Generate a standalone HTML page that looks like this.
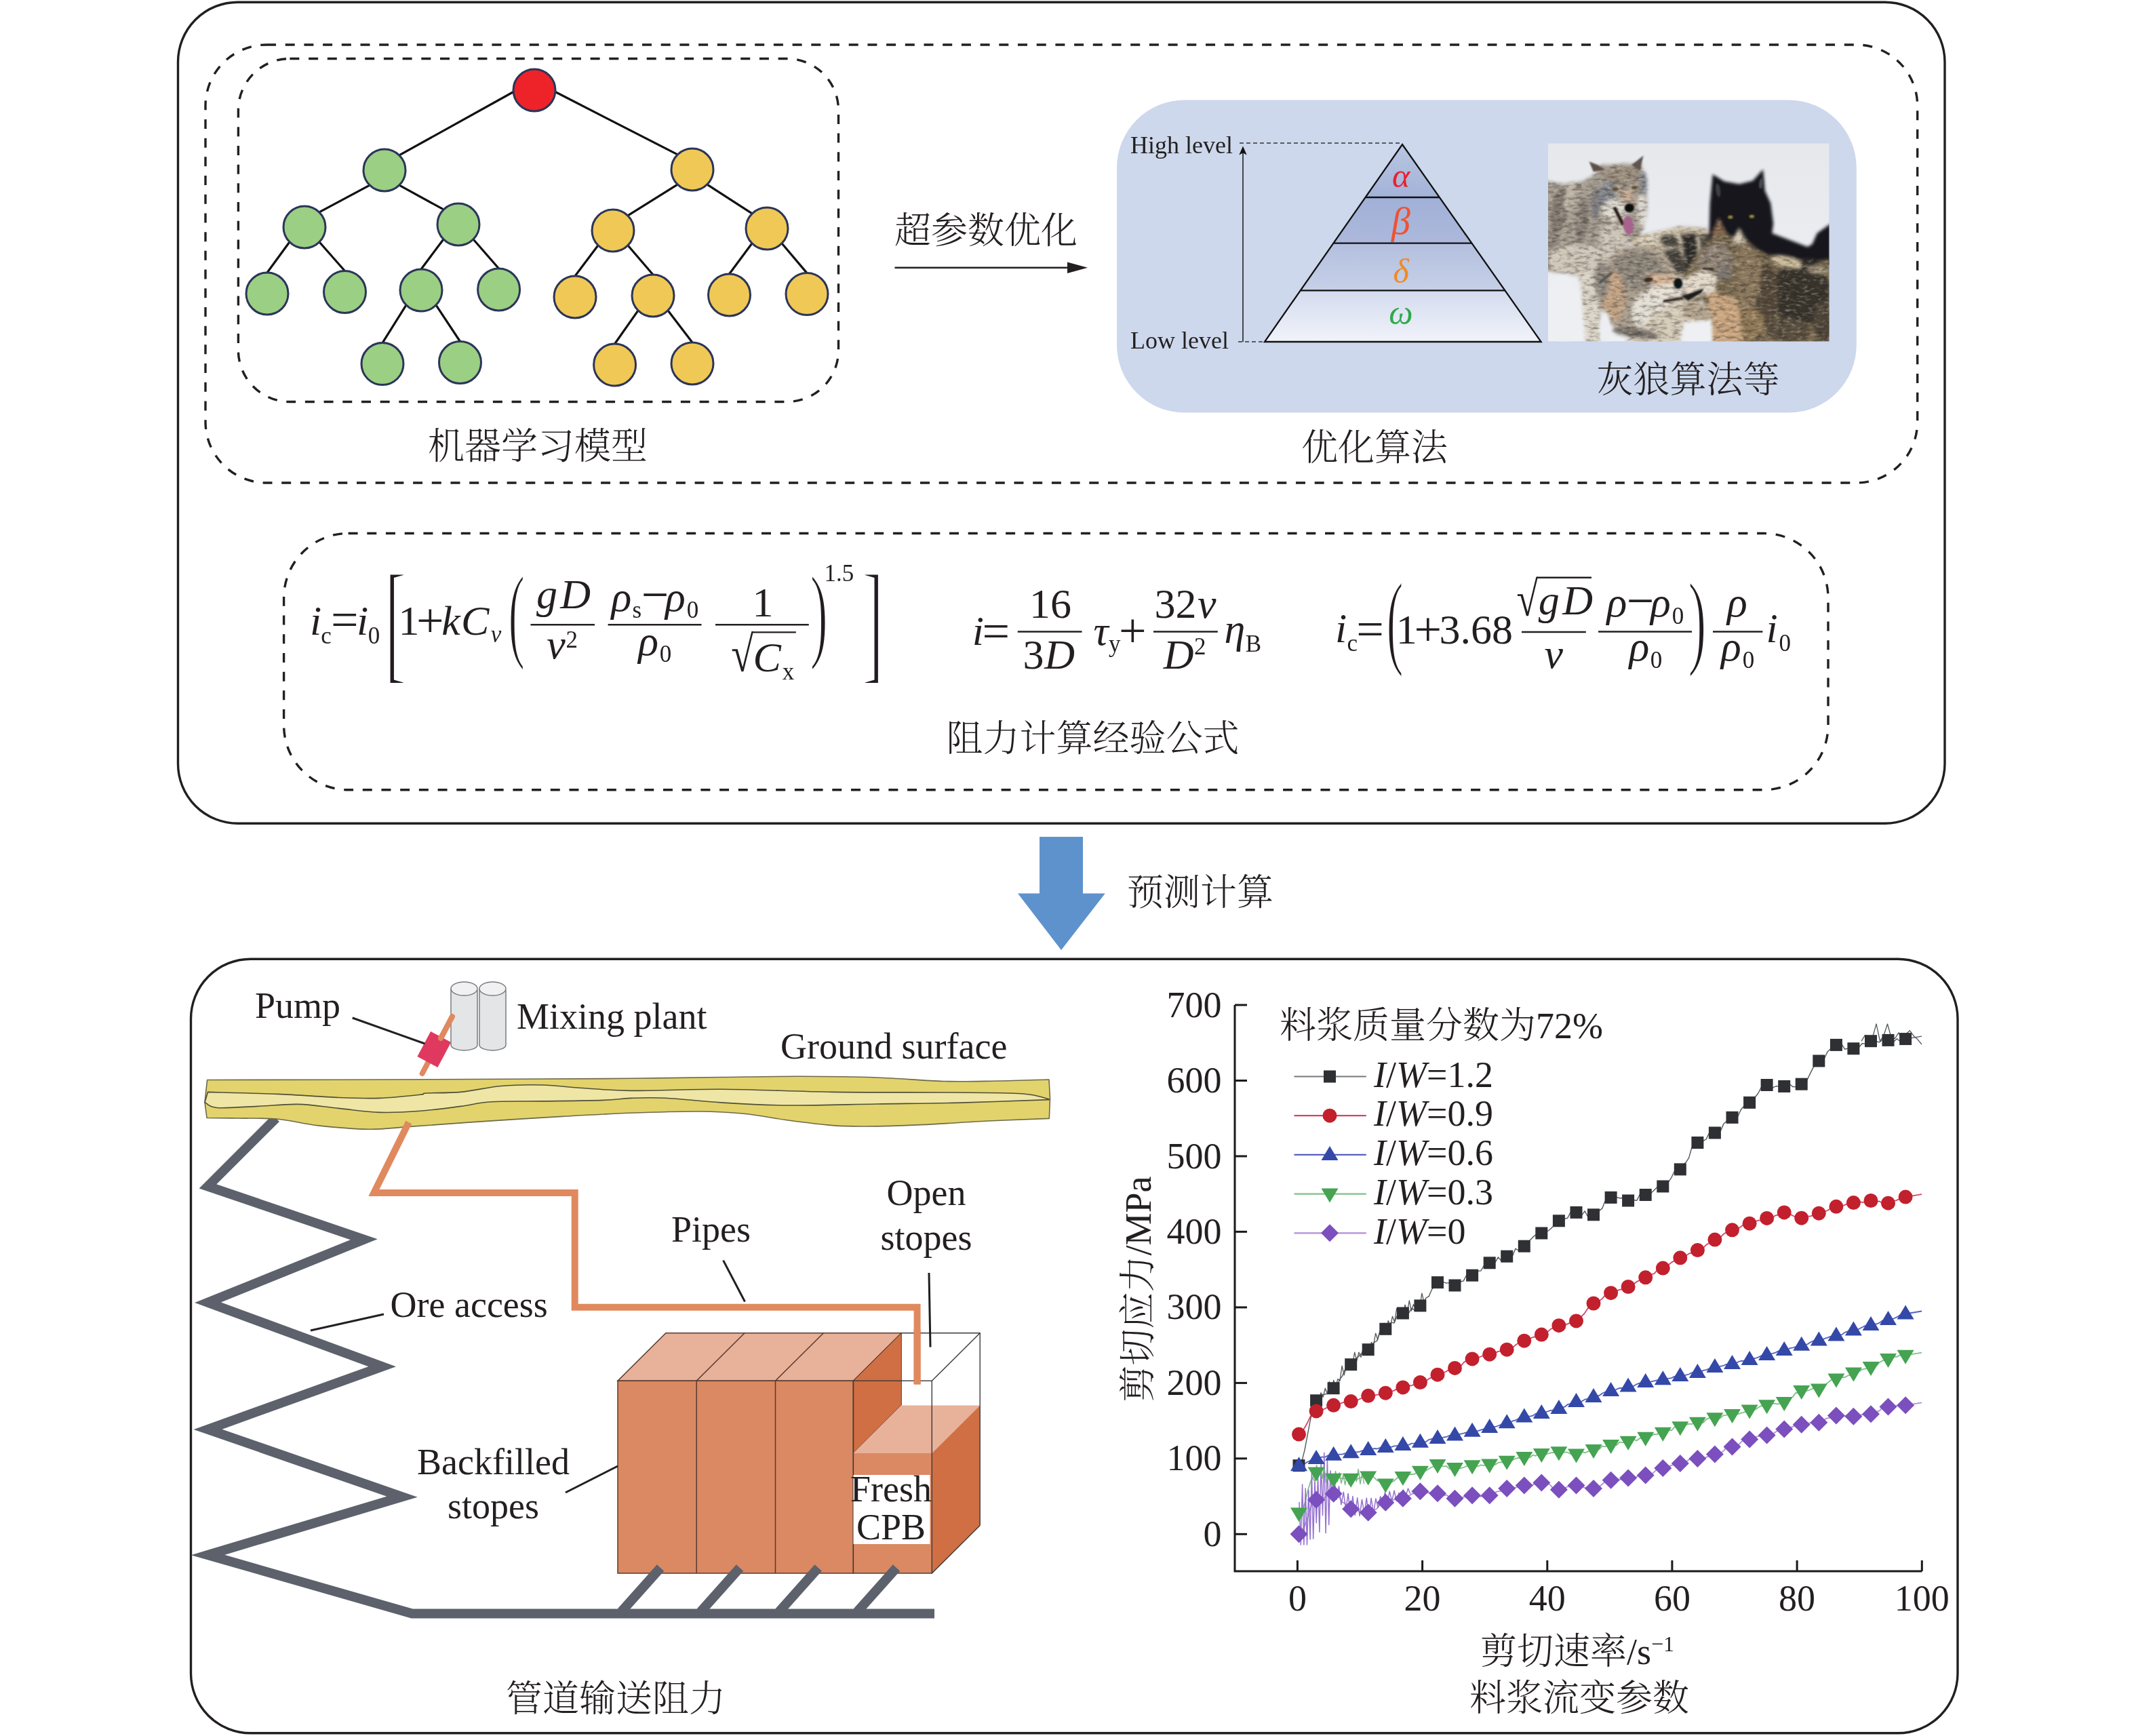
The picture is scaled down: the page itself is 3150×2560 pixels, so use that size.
<!DOCTYPE html>
<html lang="zh"><head><meta charset="utf-8"><title>figure</title>
<style>
html,body{margin:0;padding:0;background:#fff;}
body{width:3150px;height:2560px;overflow:hidden;}
svg{display:block;will-change:transform}
svg text{font-family:"Liberation Serif","Noto Serif CJK SC",serif;fill:#231f20;white-space:pre;font-weight:300}
</style></head><body>
<svg width="3150" height="2560" viewBox="0 0 3150 2560">
<!-- part_top -->
<rect x="262.5" y="3.2" width="2605.5" height="1211" rx="88" ry="88" fill="none" stroke="#231f20" stroke-width="3.4"/>
<rect x="303" y="66" width="2524.7" height="646" rx="90" ry="90" fill="none" stroke="#231f20" stroke-width="3.4" stroke-dasharray="14 13.7"/>
<rect x="351.4" y="86.5" width="885.1" height="506" rx="76" ry="76" fill="none" stroke="#231f20" stroke-width="3.4" stroke-dasharray="14 13.7"/>
<rect x="418.6" y="786.5" width="2277.4" height="378.3" rx="95" ry="95" fill="none" stroke="#231f20" stroke-width="3.4" stroke-dasharray="14 13.7"/>
<g stroke="#111" stroke-width="3.2">
<line x1="758" y1="135" x2="589.3" y2="228.7"/>
<line x1="818" y1="135" x2="998.7" y2="227.7"/>
<line x1="544.7" y1="273.3" x2="471.3" y2="312.7"/>
<line x1="589.3" y1="273.3" x2="653.7" y2="308.7"/>
<line x1="998.7" y1="272.3" x2="926.3" y2="317.7"/>
<line x1="1043.3" y1="272.3" x2="1108.7" y2="314.7"/>
<line x1="426.7" y1="357.3" x2="394" y2="402"/>
<line x1="471.3" y1="357.3" x2="508.5" y2="399.5"/>
<line x1="653.7" y1="353.3" x2="621" y2="397"/>
<line x1="698.3" y1="353.3" x2="735.6" y2="396"/>
<line x1="881.7" y1="362.3" x2="848" y2="407"/>
<line x1="926.3" y1="362.3" x2="963" y2="405"/>
<line x1="1108.7" y1="359.3" x2="1075.5" y2="404"/>
<line x1="1153.3" y1="359.3" x2="1190" y2="402.6"/>
<line x1="598.7" y1="450.3" x2="564" y2="505.6"/>
<line x1="643.3" y1="450.3" x2="678.5" y2="503.5"/>
<line x1="940.7" y1="458.3" x2="906.6" y2="507"/>
<line x1="985.3" y1="458.3" x2="1021" y2="505"/>
</g>
<g stroke="#2b3558" stroke-width="3">
<circle cx="788" cy="133" r="31" fill="#ee2229"/>
<circle cx="567" cy="251" r="31" fill="#9bcf84"/>
<circle cx="1021" cy="250" r="31" fill="#f0c855"/>
<circle cx="449" cy="335" r="31" fill="#9bcf84"/>
<circle cx="676" cy="331" r="31" fill="#9bcf84"/>
<circle cx="904" cy="340" r="31" fill="#f0c855"/>
<circle cx="1131" cy="337" r="31" fill="#f0c855"/>
<circle cx="394" cy="433" r="31" fill="#9bcf84"/>
<circle cx="508.5" cy="430.5" r="31" fill="#9bcf84"/>
<circle cx="621" cy="428" r="31" fill="#9bcf84"/>
<circle cx="735.6" cy="427" r="31" fill="#9bcf84"/>
<circle cx="848" cy="438" r="31" fill="#f0c855"/>
<circle cx="963" cy="436" r="31" fill="#f0c855"/>
<circle cx="1075.5" cy="435" r="31" fill="#f0c855"/>
<circle cx="1190" cy="433.6" r="31" fill="#f0c855"/>
<circle cx="564" cy="536.6" r="31" fill="#9bcf84"/>
<circle cx="678.5" cy="534.5" r="31" fill="#9bcf84"/>
<circle cx="906.6" cy="538" r="31" fill="#f0c855"/>
<circle cx="1021" cy="536" r="31" fill="#f0c855"/>
</g>
<text x="793" y="677" font-size="54" text-anchor="middle">机器学习模型</text>
<text x="1454" y="359" font-size="54" text-anchor="middle">超参数优化</text>
<line x1="1319.5" y1="394.7" x2="1580" y2="394.7" stroke="#231f20" stroke-width="2.6"/>
<path d="M1604,394.7 L1574,386.5 L1574,402.9 Z" fill="#231f20"/>
<text x="2027" y="679" font-size="54" text-anchor="middle">优化算法</text>
<rect x="1647" y="147.5" width="1090.8" height="461" rx="100" ry="100" fill="#cdd8ec"/>
<text x="2489.5" y="579" font-size="54" text-anchor="middle">灰狼算法等</text>
<!-- part_pyr -->
<defs><linearGradient id="pg1" x1="0" y1="0" x2="0" y2="1"><stop offset="0" stop-color="#b9c6e2"/><stop offset="1" stop-color="#a3b2d8"/></linearGradient><linearGradient id="pg2" x1="0" y1="0" x2="0" y2="1"><stop offset="0" stop-color="#a1b0d7"/><stop offset="1" stop-color="#acb9dc"/></linearGradient><linearGradient id="pg3" x1="0" y1="0" x2="0" y2="1"><stop offset="0" stop-color="#b3bfde"/><stop offset="1" stop-color="#c6d0e8"/></linearGradient><linearGradient id="pg4" x1="0" y1="0" x2="0" y2="1"><stop offset="0" stop-color="#d3dbee"/><stop offset="1" stop-color="#f1f3fa"/></linearGradient></defs>
<polygon points="2068,213 2068,213 2122.8,291 2013.6,291" fill="url(#pg1)"/>
<polygon points="2013.6,291 2122.8,291 2170.4,358.6 1966.4,358.6" fill="url(#pg2)"/>
<polygon points="1966.4,358.6 2170.4,358.6 2219.4,428.3 1917.8,428.3" fill="url(#pg3)"/>
<polygon points="1917.8,428.3 2219.4,428.3 2272.6,504 1865,504" fill="url(#pg4)"/>
<polygon points="2068,213 2272.6,504 1865,504" fill="none" stroke="#111" stroke-width="2.3" stroke-linejoin="miter"/>
<line x1="2013.6" y1="291" x2="2122.8" y2="291" stroke="#111" stroke-width="2.3"/>
<line x1="1966.4" y1="358.6" x2="2170.4" y2="358.6" stroke="#111" stroke-width="2.3"/>
<line x1="1917.8" y1="428.3" x2="2219.4" y2="428.3" stroke="#111" stroke-width="2.3"/>
<line x1="1828" y1="211" x2="2068" y2="211" stroke="#333" stroke-width="1.6" stroke-dasharray="6 4"/>
<line x1="1826" y1="504" x2="1865" y2="504" stroke="#333" stroke-width="1.6" stroke-dasharray="6 4"/>
<line x1="1833" y1="504" x2="1833" y2="224" stroke="#222" stroke-width="1.6"/>
<path d="M1833,215.5 L1827.3,228.5 L1833,225.5 L1838.7,228.5 Z" fill="#111"/>
<text x="1667" y="225.5" font-size="36">High level</text>
<text x="1667" y="514" font-size="36">Low level</text>
<text x="2066" y="276" font-size="50" text-anchor="middle" font-style="italic" style="fill:#e8212e">α</text>
<text x="2066" y="345" font-size="56" text-anchor="middle" font-style="italic" style="fill:#ee5232">β</text>
<text x="2066" y="417" font-size="50" text-anchor="middle" font-style="italic" style="fill:#f18a1f">δ</text>
<text x="2066" y="478" font-size="50" text-anchor="middle" font-style="italic" style="fill:#2eaa4a">ω</text>
<!-- part_wolf -->
<defs><clipPath id="wclip"><rect x="2283" y="211.3" width="414.6" height="292.3"/></clipPath><filter id="wb1" x="-5%" y="-5%" width="110%" height="110%" color-interpolation-filters="sRGB"><feGaussianBlur in="SourceGraphic" stdDeviation="2.4" result="b"/><feTurbulence type="fractalNoise" baseFrequency="0.09 0.22" numOctaves="3" seed="5" result="t"/><feColorMatrix in="t" type="matrix" values="0 0 0 0 0.16  0 0 0 0 0.14  0 0 0 0 0.12  1.15 0 0 0 -0.5" result="n"/><feComposite in="n" in2="b" operator="in" result="nn"/><feTurbulence type="fractalNoise" baseFrequency="0.12 0.25" numOctaves="2" seed="9" result="t2"/><feColorMatrix in="t2" type="matrix" values="0 0 0 0 0.95  0 0 0 0 0.92  0 0 0 0 0.85  0 0.9 0 0 -0.44" result="n2"/><feComposite in="n2" in2="b" operator="in" result="nn2"/><feMerge><feMergeNode in="b"/><feMergeNode in="nn"/><feMergeNode in="nn2"/></feMerge></filter><filter id="wb0" x="-5%" y="-5%" width="110%" height="110%"><feGaussianBlur stdDeviation="2.2"/></filter><filter id="wb2" x="-10%" y="-10%" width="120%" height="120%"><feGaussianBlur stdDeviation="1"/></filter><linearGradient id="wbg" x1="0" y1="0" x2="0" y2="1"><stop offset="0" stop-color="#e6e8ec"/><stop offset="0.5" stop-color="#eaecf0"/><stop offset="1" stop-color="#eff0f3"/></linearGradient></defs>
<g clip-path="url(#wclip)">
<rect x="2283" y="211.3" width="414.6" height="292.3" fill="url(#wbg)"/>
<g filter="url(#wb1)">
<polygon points="2275,266.4 2305.2,271.4 2335.4,267.4 2351.5,257.3 2361.6,243.3 2420,241.2 2428,271.4 2429,309.7 2424,335.9 2415.9,350 2403.9,358 2387.7,366.1 2371.6,386.2 2363.6,404.3 2327.3,406.3 2275,398.3" fill="#a69d91"/>
<ellipse cx="2299.2" cy="309.7" rx="12.1" ry="32.2" fill="#827a70" transform="rotate(8 2299.2 309.7)"/>
<ellipse cx="2333.4" cy="325.8" rx="9.1" ry="34.2" fill="#857d74" transform="rotate(6 2333.4 325.8)"/>
<ellipse cx="2353.5" cy="299.6" rx="7" ry="24.2" fill="#7d7b7f" transform="rotate(6 2353.5 299.6)"/>
<ellipse cx="2315.3" cy="291.6" rx="9.1" ry="22.1" fill="#bdb4a6" transform="rotate(6 2315.3 291.6)"/>
<ellipse cx="2289.1" cy="358" rx="10.1" ry="24.2" fill="#8e877d"/>
<ellipse cx="2393.8" cy="258.4" rx="28.2" ry="15.1" fill="#9b8f7f"/>
<ellipse cx="2369.6" cy="285.5" rx="11.1" ry="20.1" fill="#84868d" transform="rotate(10 2369.6 285.5)"/>
<ellipse cx="2423" cy="271.4" rx="6" ry="18.1" fill="#85878d"/>
<ellipse cx="2325.3" cy="382.2" rx="46.3" ry="22.1" fill="#d0c8ba"/>
<ellipse cx="2379.7" cy="358" rx="22.1" ry="30.2" fill="#cdc5b8"/>
<ellipse cx="2381.7" cy="309.7" rx="19.1" ry="16.1" fill="#dedad1"/>
<ellipse cx="2421" cy="309.7" rx="6.4" ry="24.2" fill="#ddd9d1"/>
<ellipse cx="2399.8" cy="289.6" rx="10.1" ry="11.1" fill="#c8ac98"/>
<polygon points="2328.4,402.3 2360.6,402.3 2361.6,507 2339.4,507" fill="#dcd5c9"/>
<polygon points="2403.9,358 2415.9,346.9 2436.1,343.9 2476.3,333.9 2516.6,335.9 2524.6,345.9 2525.7,406.3 2492.4,414.4 2456.2,406.3 2428,382.2" fill="#cabda7"/>
<polygon points="2480.4,345.9 2500.5,343.9 2506.5,406.3 2486.4,408.3" fill="#2d2b29"/>
<polygon points="2442.1,349 2468.3,345.9 2478.3,364 2456.2,364" fill="#4a4640"/>
<polygon points="2452.2,370.1 2476.3,366.1 2488.4,402.3 2472.3,404.3" fill="#45413b"/>
<polygon points="2506.5,345.9 2524.6,345.9 2525.7,386.2 2510.6,398.3" fill="#4b463f"/>
<ellipse cx="2432" cy="354" rx="18.1" ry="7" fill="#dcd2be" transform="rotate(-12 2432 354)"/>
</g>
<g filter="url(#wb0)">
<polygon points="2525.7,256.9 2542.8,267.4 2564.9,271.4 2585,266.4 2600.1,249.7 2602.8,281.5 2611.2,299.6 2615.2,329.8 2613.2,343.9 2665.6,364 2672.6,360 2679.7,343.9 2699.8,329.8 2699.8,390.2 2519.6,390.2 2521.6,301.6" fill="#18181b"/>
</g>
<g filter="url(#wb1)">
<polygon points="2496.5,382.2 2512.6,362 2528.7,345.9 2534.7,320.8 2545.8,343.9 2556.9,350 2564.9,335.9 2576,354 2589.1,366.1 2607.2,376.1 2637.4,378.1 2667.6,386.2 2699.8,382.2 2699.8,507 2522.6,507 2524.6,456.7 2512.6,444.6 2480.4,442.6 2479.3,412.4" fill="#78694f"/>
<ellipse cx="2655.5" cy="432.5" rx="44.3" ry="46.3" fill="#37332b"/>
<ellipse cx="2605.2" cy="436.5" rx="18.1" ry="46.3" fill="#54483a"/>
<ellipse cx="2689.7" cy="472.8" rx="16.1" ry="30.2" fill="#4e4538"/>
<ellipse cx="2637.4" cy="486.9" rx="32.2" ry="18.1" fill="#5a4f3f"/>
<ellipse cx="2635.4" cy="386.2" rx="24.2" ry="8.1" fill="#cfbf9f" transform="rotate(14 2635.4 386.2)"/>
<ellipse cx="2679.7" cy="398.3" rx="16.1" ry="6" fill="#a89a80" transform="rotate(10 2679.7 398.3)"/>
<ellipse cx="2669.6" cy="386.2" rx="12.1" ry="5.2" fill="#2c2925" transform="rotate(8 2669.6 386.2)"/>
<ellipse cx="2577" cy="406.3" rx="20.1" ry="46.3" fill="#8a775c"/>
<ellipse cx="2573" cy="476.8" rx="30.2" ry="26.2" fill="#927a58"/>
<polygon points="2516.6,426.5 2562.9,440.6 2571,507 2523.6,507" fill="#caa57f"/>
<polygon points="2479.3,412.4 2512.6,396.3 2532.7,406.3 2528.7,430.5 2486.4,442.6" fill="#e4dacc"/>
<polygon points="2498.5,392.2 2512.6,364 2542.8,358 2560.9,386.2 2536.7,404.3" fill="#8f8375"/>
<ellipse cx="2542.8" cy="402.3" rx="12.1" ry="11.1" fill="#7d776f"/>
<polygon points="2534.7,320.8 2523.6,346.9 2546.8,346.9" fill="#8a6b52"/>
<polygon points="2564.9,335.9 2552.8,358 2576,360" fill="#d8ccb8"/>
<ellipse cx="2415.9" cy="428.5" rx="60.4" ry="66.4" fill="#aa9e8e"/>
<ellipse cx="2413.9" cy="398.3" rx="38.3" ry="28.2" fill="#8f877c"/>
<ellipse cx="2379.7" cy="436.5" rx="17.1" ry="36.2" fill="#c4a485"/>
<ellipse cx="2361.6" cy="414.4" rx="10.1" ry="28.2" fill="#8e8880"/>
<ellipse cx="2438.1" cy="460.7" rx="32.2" ry="32.2" fill="#e5e0d7"/>
<ellipse cx="2456.2" cy="428.5" rx="26.2" ry="11.1" fill="#e8e1d6"/>
<polygon points="2428,403.3 2470.3,406.3 2479.3,415.4 2440.1,421.4" fill="#d8b698"/>
<polygon points="2442.1,460.7 2474.3,442.6 2502.5,444.6 2522.6,458.7 2524.6,507 2395.8,507" fill="#d6ccba"/>
<polygon points="2480.4,445.6 2521.6,448.6 2523.6,470.8 2484.4,468.7" fill="#b4a48e"/>
<ellipse cx="2411.9" cy="490.9" rx="34.2" ry="7.2" fill="#77716a" transform="rotate(8 2411.9 490.9)"/>
</g>
<g filter="url(#wb0)">
<ellipse cx="2305.2" cy="456.7" rx="26.2" ry="50.3" fill="#edeff2"/>
<polygon points="2483.4,475.8 2523.6,471.8 2525.7,507 2476.3,507" fill="#eef0f3"/>
<ellipse cx="2366.6" cy="486.9" rx="8.1" ry="28.2" fill="#eceef2"/>
</g>
<g filter="url(#wb2)">
<polygon points="2343.5,238.2 2349.9,253.3 2366.6,250.3 2356.5,243.3" fill="#5c504a"/>
<polygon points="2423.6,229.6 2405.9,243.3 2418.3,251.7" fill="#5f534d"/>
<ellipse cx="2402.8" cy="306.7" rx="7.2" ry="6.6" fill="#0d0d11"/>
<line x1="2381.7" y1="307.7" x2="2392.8" y2="329.8" stroke="#2a1c18" stroke-width="4.8" stroke-linecap="round"/>
<ellipse cx="2401.4" cy="332.2" rx="7.4" ry="14.1" fill="#a7648e" transform="rotate(-6 2401.4 332.2)"/>
<ellipse cx="2382.1" cy="279.1" rx="4.4" ry="2.6" fill="#5c4b2c"/>
<ellipse cx="2410.3" cy="276.5" rx="4.4" ry="2.6" fill="#5c4b2c"/>
<ellipse cx="2431" cy="412.4" rx="6.8" ry="3.4" fill="#3a2c1c" transform="rotate(-8 2431 412.4)"/>
<ellipse cx="2474.7" cy="418" rx="6.4" ry="8.1" fill="#101216"/>
<line x1="2454.2" y1="444" x2="2480.4" y2="440" stroke="#2c241e" stroke-width="3.6" stroke-linecap="round"/>
<line x1="2359.6" y1="416.4" x2="2375.7" y2="403.3" stroke="#57534c" stroke-width="4" stroke-linecap="round"/>
<line x1="2511.6" y1="396.3" x2="2525.7" y2="396.9" stroke="#2a2018" stroke-width="2.6" stroke-linecap="round"/>
<polygon points="2480.8,436.5 2512.6,425.5 2509.5,431.5 2489.4,443.6" fill="#1e1a1c"/>
<ellipse cx="2551.8" cy="320.2" rx="3.6" ry="2.4" fill="#9c8a3a"/>
<ellipse cx="2583.4" cy="319.2" rx="3.6" ry="2.4" fill="#9c8a3a"/>
<ellipse cx="2533.7" cy="280.5" rx="3.4" ry="10.1" fill="#3c3c44" transform="rotate(-8 2533.7 280.5)"/>
<ellipse cx="2597.1" cy="270.4" rx="3" ry="8.1" fill="#4a4a52" transform="rotate(8 2597.1 270.4)"/>
</g>
</g>
<!-- part_formula -->
<defs><filter id="thb" x="-20%" y="-5%" width="140%" height="110%"><feMorphology operator="erode" radius="1.1 1.7"/></filter><filter id="thp" x="-20%" y="-5%" width="140%" height="110%"><feMorphology operator="erode" radius="1.0 0.3"/></filter></defs>
<text x="457" y="936.3" font-size="62" font-style="italic">i</text>
<text x="473.2" y="948.8" font-size="35">c</text>
<text x="488.1" y="938" font-size="72">=</text>
<text x="525.9" y="936.3" font-size="62" font-style="italic">i</text>
<text x="542.7" y="948.8" font-size="35">0</text>
<g filter="url(#thb)"><text transform="translate(574.6,1009.5) scale(1.536,3.169)" x="-4.6" y="-8.3" font-size="62">[</text></g>
<text x="587.6" y="936.3" font-size="62">1</text>
<text x="614.1" y="939.2" font-size="72">+</text>
<text x="651.2" y="936.3" font-size="62" font-style="italic">k</text>
<text x="679.9" y="936.3" font-size="62" font-style="italic">C</text>
<text x="723.8" y="947" font-size="35" font-style="italic">v</text>
<g filter="url(#thp)"><text transform="translate(752.4,989) scale(1.206,2.490)" x="-2.7" y="-13.2" font-size="62">(</text></g>
<line x1="782.5" y1="921.2" x2="877" y2="921.2" stroke="#231f20" stroke-width="2.4"/>
<text x="791" y="897" font-size="62" font-style="italic">g</text>
<text x="826.2" y="897" font-size="62" font-style="italic">D</text>
<text x="806.2" y="970.8" font-size="62" font-style="italic">v</text>
<text x="834.5" y="955" font-size="35">2</text>
<line x1="896.6" y1="921.2" x2="1034.5" y2="921.2" stroke="#231f20" stroke-width="2.4"/>
<text x="901.4" y="900.5" font-size="62" font-style="italic">ρ</text>
<text x="932.6" y="910.5" font-size="35">s</text>
<text x="945.8" y="900.9" font-size="72">−</text>
<text x="981.1" y="900.5" font-size="62" font-style="italic">ρ</text>
<text x="1012.7" y="910.5" font-size="35">0</text>
<text x="941.3" y="965.5" font-size="62" font-style="italic">ρ</text>
<text x="972.7" y="975.5" font-size="35">0</text>
<line x1="1055" y1="921.2" x2="1192.8" y2="921.2" stroke="#231f20" stroke-width="2.4"/>
<text x="1109.6" y="909.4" font-size="62">1</text>
<text transform="translate(1079.7,990.5) scale(0.831,1.032)" x="-1.8" y="-0.5" font-size="72">√</text>
<line x1="1109" y1="932.4" x2="1173.8" y2="932.4" stroke="#231f20" stroke-width="2.4"/>
<text x="1110.5" y="990" font-size="62" font-style="italic">C</text>
<text x="1153.7" y="1002" font-size="35">x</text>
<g filter="url(#thp)"><text transform="translate(1197,989) scale(1.287,2.490)" x="-2" y="-13.2" font-size="62">)</text></g>
<text x="1215.4" y="856.6" font-size="35">1.5</text>
<g filter="url(#thb)"><text transform="translate(1274.5,1009.5) scale(1.536,3.169)" x="-2.2" y="-8.3" font-size="62">]</text></g>
<text x="1433.7" y="950.9" font-size="62" font-style="italic">i</text>
<text x="1448.4" y="955" font-size="72">=</text>
<line x1="1500.8" y1="931.5" x2="1595.5" y2="931.5" stroke="#231f20" stroke-width="2.4"/>
<text x="1518" y="911" font-size="62">16</text>
<text x="1508.5" y="986" font-size="62">3</text>
<text x="1540.2" y="986" font-size="62" font-style="italic">D</text>
<text x="1612.4" y="951" font-size="62" font-style="italic">τ</text>
<text x="1635" y="961" font-size="35">y</text>
<text x="1650.1" y="954.4" font-size="72">+</text>
<line x1="1701" y1="931.5" x2="1795.8" y2="931.5" stroke="#231f20" stroke-width="2.4"/>
<text x="1702.4" y="911" font-size="62">32</text>
<text x="1766" y="911" font-size="62" font-style="italic">v</text>
<text x="1715.7" y="986" font-size="62" font-style="italic">D</text>
<text x="1761" y="965" font-size="35">2</text>
<text x="1805.5" y="948" font-size="62" font-style="italic">η</text>
<text x="1836.8" y="960.6" font-size="35">B</text>
<text x="1969.1" y="946.6" font-size="62" font-style="italic">i</text>
<text x="1986.4" y="959.5" font-size="35">c</text>
<text x="2000.2" y="952" font-size="72">=</text>
<g filter="url(#thp)"><text transform="translate(2047.6,999.2) scale(1.237,2.503)" x="-2.7" y="-13.2" font-size="62">(</text></g>
<text x="2058.8" y="949.4" font-size="62">1</text>
<text x="2085.4" y="952.2" font-size="72">+</text>
<text x="2122.5" y="949.4" font-size="62">3.68</text>
<line x1="2244" y1="932" x2="2338.8" y2="932" stroke="#231f20" stroke-width="2.4"/>
<text transform="translate(2238,908.3) scale(0.797,1.004)" x="-1.8" y="-0.5" font-size="72">√</text>
<line x1="2266" y1="851.8" x2="2347" y2="851.8" stroke="#231f20" stroke-width="2.4"/>
<text x="2268.8" y="905.7" font-size="62" font-style="italic">g</text>
<text x="2304.2" y="905.7" font-size="62" font-style="italic">D</text>
<text x="2277.6" y="985.4" font-size="62" font-style="italic">v</text>
<line x1="2357" y1="931.5" x2="2495" y2="931.5" stroke="#231f20" stroke-width="2.4"/>
<text x="2369.4" y="909" font-size="62" font-style="italic">ρ</text>
<text x="2398.7" y="909.8" font-size="72">−</text>
<text x="2434.1" y="909" font-size="62" font-style="italic">ρ</text>
<text x="2465.7" y="920" font-size="35">0</text>
<text x="2402.4" y="974" font-size="62" font-style="italic">ρ</text>
<text x="2433.7" y="984.7" font-size="35">0</text>
<g filter="url(#thp)"><text transform="translate(2491.8,999.2) scale(1.331,2.503)" x="-2" y="-13.2" font-size="62">)</text></g>
<line x1="2526" y1="931.5" x2="2599.4" y2="931.5" stroke="#231f20" stroke-width="2.4"/>
<text x="2547.1" y="909" font-size="62" font-style="italic">ρ</text>
<text x="2538.1" y="974" font-size="62" font-style="italic">ρ</text>
<text x="2569.7" y="984.7" font-size="35">0</text>
<text x="2604.5" y="946.6" font-size="62" font-style="italic">i</text>
<text x="2623.5" y="959.5" font-size="35">0</text>
<text x="1611.5" y="1108" font-size="54" text-anchor="middle">阻力计算经验公式</text>
<!-- part_mid -->
<polygon points="1533,1234 1597,1234 1597,1317.6 1629.8,1317.6 1565,1401 1501,1317.6 1533,1317.6" fill="#5e92cd"/>
<text x="1770" y="1335" font-size="54" text-anchor="middle">预测计算</text>
<rect x="281.5" y="1414.2" width="2605.5" height="1141.6" rx="88" ry="88" fill="none" stroke="#231f20" stroke-width="3.4"/>
<!-- part_left -->
<polyline points="407,1649 306.5,1749.4 536.7,1827.7 306.5,1920.8 563.6,2015.3 306.5,2107.8 593,2207.2 306.5,2293 607.7,2379.5 1378,2379.5" fill="none" stroke="#5c616c" stroke-width="14" stroke-linejoin="miter" stroke-miterlimit="10"/>
<path d="M305.6,1592.5 C338,1592.5 417.6,1592.5 500,1592.3 C582.4,1592 728.3,1591.3 800,1591 C871.7,1590.7 886,1590.7 930,1590.3 C974,1589.9 1022.2,1589 1063.9,1588.5 C1105.6,1588 1141.8,1587.2 1180,1587.3 C1218.2,1587.4 1257.7,1587.8 1293,1589 C1328.3,1590.2 1362.1,1593.7 1391.6,1594.5 C1421.1,1595.3 1444.1,1594.4 1470,1594 C1495.9,1593.6 1534.2,1592.3 1547,1592 L1548.5,1620 L1547.3,1649.4 C1532.3,1650 1488.6,1651.5 1457.2,1653 C1425.8,1654.5 1388.9,1657.3 1358.9,1658.6 C1328.9,1659.9 1298.8,1660.8 1277,1661 C1255.2,1661.2 1246.9,1661.1 1227.8,1659.6 C1208.7,1658.1 1184,1654.9 1162.2,1652 C1140.4,1649.1 1118.6,1644.4 1096.7,1642.2 C1074.8,1640 1058.8,1639.2 1031,1639 C1003.2,1638.8 963.6,1640.1 930,1641.3 C896.4,1642.5 866,1644.3 829.3,1646.4 C792.5,1648.5 747,1651.4 709.5,1653.9 C672,1656.4 632.1,1659.5 604.6,1661.4 C577.1,1663.3 567.2,1665.5 544.7,1665.3 C522.2,1665 492.3,1662.4 469.8,1659.9 C447.3,1657.4 429.9,1652.1 409.9,1650.3 C389.9,1648.5 367.5,1649.3 350,1649 C332.5,1648.7 312.5,1648.6 305,1648.5 L302,1625.4 Z" fill="#e3d36c" stroke="#6b6a4a" stroke-width="1.6" stroke-linejoin="round"/>
<path d="M306.5,1610.4 C323.7,1610.9 377.7,1612.1 409.9,1613.4 C442.1,1614.8 474.7,1617.5 499.7,1618.5 C524.7,1619.5 539.7,1620.1 559.7,1619.4 C579.7,1618.7 608.1,1615.5 619.6,1614.3 C631.1,1613.1 618.6,1612.7 628.6,1612 C638.6,1611.3 661,1612.2 679.5,1610.4 C698,1608.7 719.4,1603.2 739.4,1601.5 C759.4,1599.8 779.4,1599.5 799.4,1600 C819.4,1600.5 837.5,1603.1 859.3,1604.5 C881.1,1605.9 895.9,1608.1 930,1608.4 C964.1,1608.7 1014.3,1605.9 1063.9,1606.2 C1113.5,1606.5 1173.2,1609.6 1227.8,1610.4 C1282.4,1611.2 1345.2,1610.6 1391.6,1611 C1438,1611.4 1480.5,1611 1506.4,1612.7 C1532.4,1614.4 1540.5,1619.6 1547.3,1621 L1547.3,1621.6 C1526.8,1622.3 1466.7,1624.8 1424.4,1625.9 C1382.1,1627 1337,1627.3 1293.3,1628 C1249.6,1628.7 1200.4,1630.3 1162.2,1630 C1124,1629.7 1093.9,1627.7 1063.9,1625.9 C1033.9,1624.1 1004.3,1620.4 982,1619.3 C959.7,1618.2 945.5,1618.9 930,1619.4 C914.5,1619.9 911.1,1621.7 889.3,1622.4 C867.5,1623.2 826.9,1623.5 799.4,1623.9 C771.9,1624.3 744.5,1623.5 724.5,1624.8 C704.5,1626 697,1629.2 679.5,1631.4 C662,1633.7 639.6,1636.8 619.6,1638.3 C599.6,1639.8 579.7,1641.1 559.7,1640.4 C539.7,1639.8 519.7,1636.4 499.7,1634.4 C479.7,1632.4 459.8,1628.9 439.8,1628.4 C419.8,1627.9 399.9,1630.6 379.9,1631.4 C359.9,1632.2 333,1634.5 320,1633.5 C307,1632.5 305,1626.8 302,1625.4 Z" fill="#efe6a6" stroke="#4f4f3a" stroke-width="1.6" stroke-linejoin="round"/>
<polyline points="602.8,1655 551.4,1759 847.7,1759 847.7,1927.7 1352.6,1927.7 1352.6,2041.4" fill="none" stroke="#e0895f" stroke-width="10" stroke-linejoin="miter"/>
<line x1="667" y1="1499" x2="622.7" y2="1583" stroke="#e0895f" stroke-width="8" stroke-linecap="round"/>
<rect x="-17" y="-21" width="34" height="42" fill="#e0395f" transform="translate(640.3,1547.5) rotate(28)"/>
<path d="M665,1458 L665,1541 A19.5,8 0 0 0 704,1541 L704,1460" fill="#e4e5e6" stroke="#777c82" stroke-width="1.5"/>
<ellipse cx="684.5" cy="1458" rx="19.5" ry="10" fill="#f1f1f2" stroke="#777c82" stroke-width="1.5"/>
<path d="M707,1458 L707,1541 A19.5,8 0 0 0 746,1541 L746,1460" fill="#e4e5e6" stroke="#777c82" stroke-width="1.5"/>
<ellipse cx="726.5" cy="1458" rx="19.5" ry="10" fill="#f1f1f2" stroke="#777c82" stroke-width="1.5"/>
<line x1="667" y1="1499" x2="650" y2="1531" stroke="#e0895f" stroke-width="8" stroke-linecap="round"/>
<polygon points="911,2036.2 1258.4,2036.2 1329.3,1965.8 981.9,1965.8" fill="#e8b199" stroke="#5a3a2e" stroke-width="1.5"/>
<line x1="1027.2" y1="2036.2" x2="1098.1" y2="1965.8" stroke="#5a3a2e" stroke-width="1.5"/>
<line x1="1143.5" y1="2036.2" x2="1214.4" y2="1965.8" stroke="#5a3a2e" stroke-width="1.5"/>
<polygon points="1258.4,2036.2 1329.3,1965.8 1329.3,2072 1258.4,2143" fill="#d06f43" stroke="#5a3a2e" stroke-width="1"/>
<polygon points="1258.4,2143 1374.3,2143 1445.2,2072.6 1329.3,2072.6" fill="#e8b199"/>
<polygon points="1374.3,2143 1445.2,2072.6 1445.2,2249.6 1374.3,2320" fill="#d06f43"/>
<rect x="911" y="2036.2" width="347.4" height="283.8" fill="#da8963" stroke="#5a3a2e" stroke-width="1.5"/>
<line x1="1027.2" y1="2036.2" x2="1027.2" y2="2320" stroke="#5a3a2e" stroke-width="1.5"/>
<line x1="1143.5" y1="2036.2" x2="1143.5" y2="2320" stroke="#5a3a2e" stroke-width="1.5"/>
<rect x="1258.4" y="2143" width="115.9" height="177" fill="#da8963"/>
<g fill="none" stroke="#3a3a3a" stroke-width="1.4">
<rect x="1258.4" y="2036.2" width="115.9" height="283.8"/>
<polyline points="1329.3,1965.8 1445.2,1965.8 1445.2,2249.6"/>
<line x1="1374.3" y1="2036.2" x2="1445.2" y2="1965.8"/>
<line x1="1374.3" y1="2320" x2="1445.2" y2="2249.6"/>
</g>
<line x1="1352.6" y1="1960" x2="1352.6" y2="2041.4" stroke="#e0895f" stroke-width="10"/>
<line x1="916" y1="2377" x2="974" y2="2312" stroke="#5c616c" stroke-width="14"/>
<line x1="1033" y1="2377" x2="1091" y2="2312" stroke="#5c616c" stroke-width="14"/>
<line x1="1148.7" y1="2377" x2="1206.7" y2="2312" stroke="#5c616c" stroke-width="14"/>
<line x1="1264" y1="2377" x2="1322" y2="2312" stroke="#5c616c" stroke-width="14"/>
<rect x="1258.5" y="2175" width="113" height="102" fill="#fff"/>
<text x="376" y="1501" font-size="54">Pump</text>
<line x1="519.7" y1="1501" x2="626.4" y2="1539" stroke="#231f20" stroke-width="3"/>
<text x="762" y="1517" font-size="54">Mixing plant</text>
<text x="1151" y="1561" font-size="54">Ground surface</text>
<text x="575.5" y="1942" font-size="54">Ore access</text>
<line x1="458" y1="1962" x2="566" y2="1938" stroke="#231f20" stroke-width="3"/>
<text x="727.5" y="2174" font-size="54" text-anchor="middle">Backfilled</text>
<text x="727.5" y="2239" font-size="54" text-anchor="middle">stopes</text>
<line x1="834" y1="2201" x2="911" y2="2162" stroke="#231f20" stroke-width="3"/>
<text x="1048.5" y="1831" font-size="54" text-anchor="middle">Pipes</text>
<line x1="1066.6" y1="1858.6" x2="1098.5" y2="1919.5" stroke="#231f20" stroke-width="3"/>
<text x="1366" y="1777" font-size="54" text-anchor="middle">Open</text>
<text x="1366" y="1842.6" font-size="54" text-anchor="middle">stopes</text>
<line x1="1370" y1="1877" x2="1372" y2="1986.5" stroke="#231f20" stroke-width="3"/>
<text x="1314" y="2214" font-size="54" text-anchor="middle">Fresh</text>
<text x="1314" y="2269.6" font-size="54" text-anchor="middle">CPB</text>
<text x="908" y="2524" font-size="54" text-anchor="middle">管道输送阻力</text>
<!-- part_chart -->
<path d="M1821,1482 L1821,2317 L2834.3,2317" fill="none" stroke="#1a1a1a" stroke-width="3"/>
<line x1="1821" y1="2262.3" x2="1839" y2="2262.3" stroke="#1a1a1a" stroke-width="3"/>
<text x="1801.5" y="2279.8" font-size="54" text-anchor="end">0</text>
<line x1="1821" y1="2150.8" x2="1839" y2="2150.8" stroke="#1a1a1a" stroke-width="3"/>
<text x="1801.5" y="2168.3" font-size="54" text-anchor="end">100</text>
<line x1="1821" y1="2039.4" x2="1839" y2="2039.4" stroke="#1a1a1a" stroke-width="3"/>
<text x="1801.5" y="2056.9" font-size="54" text-anchor="end">200</text>
<line x1="1821" y1="1927.9" x2="1839" y2="1927.9" stroke="#1a1a1a" stroke-width="3"/>
<text x="1801.5" y="1945.4" font-size="54" text-anchor="end">300</text>
<line x1="1821" y1="1816.4" x2="1839" y2="1816.4" stroke="#1a1a1a" stroke-width="3"/>
<text x="1801.5" y="1833.9" font-size="54" text-anchor="end">400</text>
<line x1="1821" y1="1705" x2="1839" y2="1705" stroke="#1a1a1a" stroke-width="3"/>
<text x="1801.5" y="1722.5" font-size="54" text-anchor="end">500</text>
<line x1="1821" y1="1593.5" x2="1839" y2="1593.5" stroke="#1a1a1a" stroke-width="3"/>
<text x="1801.5" y="1611" font-size="54" text-anchor="end">600</text>
<line x1="1821" y1="1482" x2="1839" y2="1482" stroke="#1a1a1a" stroke-width="3"/>
<text x="1801.5" y="1499.5" font-size="54" text-anchor="end">700</text>
<line x1="1913.4" y1="2317" x2="1913.4" y2="2301" stroke="#1a1a1a" stroke-width="3"/>
<text x="1913.4" y="2374.7" font-size="54" text-anchor="middle">0</text>
<line x1="2097.6" y1="2317" x2="2097.6" y2="2301" stroke="#1a1a1a" stroke-width="3"/>
<text x="2097.6" y="2374.7" font-size="54" text-anchor="middle">20</text>
<line x1="2281.8" y1="2317" x2="2281.8" y2="2301" stroke="#1a1a1a" stroke-width="3"/>
<text x="2281.8" y="2374.7" font-size="54" text-anchor="middle">40</text>
<line x1="2465.9" y1="2317" x2="2465.9" y2="2301" stroke="#1a1a1a" stroke-width="3"/>
<text x="2465.9" y="2374.7" font-size="54" text-anchor="middle">60</text>
<line x1="2650.1" y1="2317" x2="2650.1" y2="2301" stroke="#1a1a1a" stroke-width="3"/>
<text x="2650.1" y="2374.7" font-size="54" text-anchor="middle">80</text>
<line x1="2834.3" y1="2317" x2="2834.3" y2="2301" stroke="#1a1a1a" stroke-width="3"/>
<text x="2834.3" y="2374.7" font-size="54" text-anchor="middle">100</text>
<text transform="translate(1697,1901) rotate(-90)" font-size="54" text-anchor="middle">剪切应力/MPa</text>
<text x="2326" y="2454" font-size="54" text-anchor="middle">剪切速率/s<tspan font-size="32" dy="-19">−1</tspan></text>
<text x="2329" y="2523" font-size="54" text-anchor="middle">料浆流变参数</text>
<text x="1887" y="1531" font-size="54">料浆质量分数为72%</text>
<line x1="1908.5" y1="1587.5" x2="2014.8" y2="1587.5" stroke="#77787c" stroke-width="2.2"/>
<rect x="1952" y="1578.5" width="18" height="18" fill="#2f3034"/>
<text x="2026" y="1602.7" font-size="54"><tspan font-style="italic">I</tspan>/<tspan font-style="italic">W</tspan>=1.2</text>
<line x1="1908.5" y1="1645.2" x2="2014.8" y2="1645.2" stroke="#d2456a" stroke-width="2.2"/>
<circle cx="1961" cy="1645.2" r="10.5" fill="#c2202d"/>
<text x="2026" y="1660.4" font-size="54"><tspan font-style="italic">I</tspan>/<tspan font-style="italic">W</tspan>=0.9</text>
<line x1="1908.5" y1="1702.9" x2="2014.8" y2="1702.9" stroke="#5560c0" stroke-width="2.2"/>
<polygon points="1961,1689.9 1973.5,1710.9 1948.5,1710.9" fill="#3448a8"/>
<text x="2026" y="1718.1" font-size="54"><tspan font-style="italic">I</tspan>/<tspan font-style="italic">W</tspan>=0.6</text>
<line x1="1908.5" y1="1760.6" x2="2014.8" y2="1760.6" stroke="#7fc088" stroke-width="2.2"/>
<polygon points="1961,1773.6 1973.5,1752.6 1948.5,1752.6" fill="#45a352"/>
<text x="2026" y="1775.8" font-size="54"><tspan font-style="italic">I</tspan>/<tspan font-style="italic">W</tspan>=0.3</text>
<line x1="1908.5" y1="1818.3" x2="2014.8" y2="1818.3" stroke="#b08fd6" stroke-width="2.2"/>
<polygon points="1961,1805.3 1974,1818.3 1961,1831.3 1948,1818.3" fill="#7b4fbd"/>
<text x="2026" y="1833.5" font-size="54"><tspan font-style="italic">I</tspan>/<tspan font-style="italic">W</tspan>=0</text>
<path d="M1915.5,2262.3 L1919.8,2257.1 L1924,2250.6 L1928.3,2238.1 L1932.5,2223.9 L1936.8,2215.5 L1941.1,2211.8 L1945.3,2210.9 L1949.6,2210 L1953.8,2208.4 L1958.1,2203.4 L1962.4,2201.5 L1966.6,2202.7 L1970.9,2205.7 L1975.1,2208.3 L1979.4,2215 L1983.7,2217.4 L1987.9,2223.4 L1992.2,2225.3 L1996.4,2226.5 L2000.7,2225.5 L2005,2229.6 L2009.2,2230.7 L2013.5,2228.2 L2017.7,2230.4 L2022,2227.4 L2026.3,2226.8 L2030.5,2224.8 L2034.8,2219 L2039,2215.6 L2043.3,2215.7 L2047.6,2214.9 L2051.8,2212.2 L2056.1,2211.6 L2060.3,2211 L2064.6,2210.1 L2068.9,2209.7 L2073.1,2207.9 L2077.4,2205.9 L2081.6,2203.4 L2085.9,2201.9 L2090.2,2199.3 L2094.4,2199.3 L2098.7,2197.6 L2102.9,2201.4 L2107.2,2201 L2111.5,2202 L2115.7,2200.7 L2120,2202.2 L2124.2,2204.7 L2128.5,2205.6 L2132.8,2204.4 L2137,2207.1 L2141.3,2210 L2145.5,2209.7 L2149.8,2210.2 L2154.1,2210.3 L2158.3,2207.2 L2162.6,2207.8 L2166.8,2206.3 L2171.1,2205.3 L2175.4,2204.5 L2179.6,2205.6 L2183.9,2206.8 L2188.1,2206.7 L2192.4,2205.3 L2196.7,2205.3 L2200.9,2204.9 L2205.2,2200.7 L2209.4,2199.1 L2213.7,2198.8 L2218,2195.4 L2222.2,2194.9 L2226.5,2193.3 L2230.7,2194 L2235,2193.5 L2239.3,2192.4 L2243.5,2190.3 L2247.8,2190.5 L2252,2190 L2256.3,2189.5 L2260.6,2189.6 L2264.8,2187.5 L2269.1,2186.3 L2273.3,2186.4 L2277.6,2187.1 L2281.9,2187.2 L2286.1,2189.7 L2290.4,2194.9 L2294.6,2197.9 L2298.9,2196.7 L2303.2,2196.7 L2307.4,2194.7 L2311.7,2192.3 L2315.9,2192.1 L2320.2,2192.9 L2324.5,2190.5 L2328.7,2191.9 L2333,2191.8 L2337.2,2194.2 L2341.5,2192.7 L2345.8,2194.7 L2350,2194.9 L2354.3,2195.8 L2358.5,2192.1 L2362.8,2188.7 L2367.1,2185 L2371.3,2183.8 L2375.6,2182.7 L2379.8,2184.3 L2384.1,2179.9 L2388.4,2182.2 L2392.6,2181.5 L2396.9,2181.2 L2401.1,2179.4 L2405.4,2180.1 L2409.7,2179.6 L2413.9,2177.5 L2418.2,2176.7 L2422.4,2175.5 L2426.7,2175.5 L2431,2172.9 L2435.2,2174.3 L2439.5,2170.6 L2443.7,2166.6 L2448,2165.9 L2452.3,2165.1 L2456.5,2164.5 L2460.8,2162.7 L2465,2160.9 L2469.3,2159.9 L2473.6,2158.9 L2477.8,2157.9 L2482.1,2157.8 L2486.3,2155.9 L2490.6,2152.5 L2494.9,2151.6 L2499.1,2150.1 L2503.4,2150.9 L2507.6,2150.7 L2511.9,2150.6 L2516.2,2148.8 L2520.4,2147.3 L2524.7,2146.1 L2528.9,2144.4 L2533.2,2142.6 L2537.5,2142.9 L2541.7,2139.6 L2546,2134.7 L2550.2,2132.4 L2554.5,2133.5 L2558.8,2130.7 L2563,2131.6 L2567.3,2126.9 L2571.5,2123.7 L2575.8,2123.7 L2580.1,2122.4 L2584.3,2121.3 L2588.6,2119.1 L2592.8,2118 L2597.1,2118 L2601.4,2115.5 L2605.6,2116.4 L2609.9,2114.8 L2614.1,2115 L2618.4,2111.8 L2622.7,2109.2 L2626.9,2108.1 L2631.2,2107.6 L2635.4,2105.2 L2639.7,2105.4 L2644,2103.9 L2648.2,2101.3 L2652.5,2099.8 L2656.7,2100.8 L2661,2102.2 L2665.3,2100.1 L2669.5,2098.1 L2673.8,2099 L2678,2099.2 L2682.3,2097.7 L2686.6,2095 L2690.8,2093.1 L2695.1,2091.1 L2699.3,2090.9 L2703.6,2086.8 L2707.9,2087.4 L2712.1,2088.3 L2716.4,2088.4 L2720.6,2088.2 L2724.9,2087.2 L2729.2,2090.5 L2733.4,2088.7 L2737.7,2089.6 L2741.9,2087.9 L2746.2,2085.9 L2750.5,2086.8 L2754.7,2085.1 L2759,2085.3 L2763.2,2084.8 L2767.5,2081.8 L2771.8,2080.4 L2776,2075.5 L2780.3,2074.4 L2784.5,2074.4 L2788.8,2076.1 L2793.1,2075.4 L2797.3,2072.6 L2801.6,2074.3 L2805.8,2071.7 L2810.1,2072.3 L2834.1,2068.3" fill="none" stroke="#b08fd6" stroke-width="1.8" stroke-linejoin="round"/>
<path d="M1915.5,2231.2 L1919.8,2228.6 L1924,2217.6 L1928.3,2199.6 L1932.5,2185.4 L1936.8,2177.4 L1941.1,2171.6 L1945.3,2173.2 L1949.6,2174.6 L1953.8,2175.4 L1958.1,2178.7 L1962.4,2180.4 L1966.6,2180.7 L1970.9,2181 L1975.1,2179.3 L1979.4,2180.4 L1983.7,2180.2 L1987.9,2181.6 L1992.2,2180.7 L1996.4,2182.4 L2000.7,2181.7 L2005,2179.3 L2009.2,2178.1 L2013.5,2176.9 L2017.7,2177.6 L2022,2176.5 L2026.3,2178.5 L2030.5,2182.9 L2034.8,2184.9 L2039,2187.2 L2043.3,2188.4 L2047.6,2189.2 L2051.8,2185.9 L2056.1,2183.5 L2060.3,2179.7 L2064.6,2176.9 L2068.9,2178.1 L2073.1,2176.8 L2077.4,2174.5 L2081.6,2174 L2085.9,2173.9 L2090.2,2171.1 L2094.4,2169.8 L2098.7,2167.8 L2102.9,2168.8 L2107.2,2166 L2111.5,2163.4 L2115.7,2162.3 L2120,2159.9 L2124.2,2161.4 L2128.5,2162.4 L2132.8,2161.9 L2137,2165.7 L2141.3,2166.6 L2145.5,2165.1 L2149.8,2163.5 L2154.1,2165.1 L2158.3,2164 L2162.6,2162.1 L2166.8,2161.6 L2171.1,2161.2 L2175.4,2161.1 L2179.6,2162.5 L2183.9,2160.3 L2188.1,2161.2 L2192.4,2159 L2196.7,2159.4 L2200.9,2160.6 L2205.2,2159.8 L2209.4,2156.9 L2213.7,2156.2 L2218,2156.8 L2222.2,2154.8 L2226.5,2155.2 L2230.7,2153.2 L2235,2150.8 L2239.3,2149.8 L2243.5,2150.3 L2247.8,2149.1 L2252,2147.3 L2256.3,2149.3 L2260.6,2145.5 L2264.8,2146.9 L2269.1,2143.5 L2273.3,2143.9 L2277.6,2145.5 L2281.9,2144 L2286.1,2142.6 L2290.4,2142 L2294.6,2142.1 L2298.9,2141.3 L2303.2,2141.9 L2307.4,2141.3 L2311.7,2141.7 L2315.9,2143.6 L2320.2,2145.9 L2324.5,2144.4 L2328.7,2144.4 L2333,2141 L2337.2,2142.4 L2341.5,2140.5 L2345.8,2140 L2350,2137.9 L2354.3,2136.2 L2358.5,2137.1 L2362.8,2132.6 L2367.1,2133.3 L2371.3,2130.5 L2375.6,2130.9 L2379.8,2129.4 L2384.1,2131.1 L2388.4,2126.7 L2392.6,2127.2 L2396.9,2127.5 L2401.1,2125.7 L2405.4,2124.3 L2409.7,2123 L2413.9,2124.3 L2418.2,2121 L2422.4,2121.1 L2426.7,2119.8 L2431,2117.4 L2435.2,2117.4 L2439.5,2114.9 L2443.7,2115.3 L2448,2111.6 L2452.3,2112.8 L2456.5,2113.9 L2460.8,2108.6 L2465,2109.4 L2469.3,2104.5 L2473.6,2103.9 L2477.8,2104.2 L2482.1,2105 L2486.3,2101.2 L2490.6,2099.7 L2494.9,2100.2 L2499.1,2097.8 L2503.4,2097.7 L2507.6,2095.4 L2511.9,2098 L2516.2,2093.1 L2520.4,2091.1 L2524.7,2091.1 L2528.9,2091.2 L2533.2,2091.3 L2537.5,2090.9 L2541.7,2087.1 L2546,2086.8 L2550.2,2084.6 L2554.5,2086.1 L2558.8,2085.4 L2563,2085.4 L2567.3,2083.8 L2571.5,2082.9 L2575.8,2081.1 L2580.1,2079.6 L2584.3,2080.5 L2588.6,2078.5 L2592.8,2075.8 L2597.1,2073.1 L2601.4,2073.5 L2605.6,2072.3 L2609.9,2071.3 L2614.1,2069.6 L2618.4,2069.9 L2622.7,2070.6 L2626.9,2066.8 L2631.2,2067.9 L2635.4,2067 L2639.7,2063.1 L2644,2059.6 L2648.2,2054 L2652.5,2054.2 L2656.7,2051.1 L2661,2049.9 L2665.3,2050.8 L2669.5,2049.5 L2673.8,2047.2 L2678,2048.9 L2682.3,2048.5 L2686.6,2045.9 L2690.8,2042.8 L2695.1,2039.1 L2699.3,2036 L2703.6,2032.9 L2707.9,2033.4 L2712.1,2033.3 L2716.4,2031.2 L2720.6,2031 L2724.9,2028.7 L2729.2,2027.3 L2733.4,2024.6 L2737.7,2022.9 L2741.9,2022.2 L2746.2,2019.4 L2750.5,2018.7 L2754.7,2017.2 L2759,2016.1 L2763.2,2016.4 L2767.5,2013.8 L2771.8,2009 L2776,2006.7 L2780.3,2004.9 L2784.5,2003.9 L2788.8,2001.5 L2793.1,2000.7 L2797.3,2000.9 L2801.6,1998.5 L2805.8,2000 L2810.1,1998.7 L2834.1,1994.7" fill="none" stroke="#7fc088" stroke-width="1.8" stroke-linejoin="round"/>
<path d="M1915.5,2161.2 L1919.8,2159.9 L1924,2158.6 L1928.3,2155.8 L1932.5,2153.8 L1936.8,2151.9 L1941.1,2150.9 L1945.3,2149.6 L1949.6,2148.5 L1953.8,2148.9 L1958.1,2146.5 L1962.4,2145.5 L1966.6,2145.7 L1970.9,2146.4 L1975.1,2144.7 L1979.4,2144.7 L1983.7,2143.1 L1987.9,2142.8 L1992.2,2142.3 L1996.4,2141.3 L2000.7,2141.4 L2005,2140.8 L2009.2,2139.1 L2013.5,2138.7 L2017.7,2137.9 L2022,2138 L2026.3,2136 L2030.5,2136.5 L2034.8,2135.2 L2039,2133.9 L2043.3,2134 L2047.6,2132.8 L2051.8,2133.9 L2056.1,2132.4 L2060.3,2132.2 L2064.6,2131.9 L2068.9,2130.9 L2073.1,2131 L2077.4,2130.7 L2081.6,2128.6 L2085.9,2128.4 L2090.2,2127 L2094.4,2126.8 L2098.7,2127.2 L2102.9,2126 L2107.2,2123.1 L2111.5,2121.8 L2115.7,2120.9 L2120,2121.1 L2124.2,2121.6 L2128.5,2119.7 L2132.8,2119 L2137,2117.2 L2141.3,2116.8 L2145.5,2116.4 L2149.8,2115.7 L2154.1,2114.6 L2158.3,2113.7 L2162.6,2112.3 L2166.8,2111.9 L2171.1,2110.7 L2175.4,2110.6 L2179.6,2110.1 L2183.9,2108.6 L2188.1,2107.4 L2192.4,2105.8 L2196.7,2105 L2200.9,2103.8 L2205.2,2104 L2209.4,2102.5 L2213.7,2100.8 L2218,2098.9 L2222.2,2098.2 L2226.5,2098 L2230.7,2095.4 L2235,2094.5 L2239.3,2091.9 L2243.5,2089.7 L2247.8,2089.4 L2252,2088.2 L2256.3,2088.7 L2260.6,2087.7 L2264.8,2084.6 L2269.1,2085 L2273.3,2084 L2277.6,2083.3 L2281.9,2081.5 L2286.1,2080.1 L2290.4,2079.3 L2294.6,2078.3 L2298.9,2077 L2303.2,2075.4 L2307.4,2074.7 L2311.7,2071.2 L2315.9,2070.1 L2320.2,2067.5 L2324.5,2067.1 L2328.7,2067.4 L2333,2066.3 L2337.2,2063.7 L2341.5,2063 L2345.8,2060.3 L2350,2060.1 L2354.3,2058.6 L2358.5,2058 L2362.8,2054.7 L2367.1,2052.8 L2371.3,2051.6 L2375.6,2051.1 L2379.8,2050.8 L2384.1,2048.7 L2388.4,2046.9 L2392.6,2047 L2396.9,2044.7 L2401.1,2044.6 L2405.4,2045 L2409.7,2043.7 L2413.9,2041.1 L2418.2,2039.7 L2422.4,2038.6 L2426.7,2038.1 L2431,2038.1 L2435.2,2037.3 L2439.5,2036.3 L2443.7,2035.5 L2448,2035.4 L2452.3,2034.2 L2456.5,2033.9 L2460.8,2032.7 L2465,2032.1 L2469.3,2029.9 L2473.6,2029 L2477.8,2029 L2482.1,2029.6 L2486.3,2027.7 L2490.6,2026.5 L2494.9,2024.2 L2499.1,2024.1 L2503.4,2023.9 L2507.6,2023.4 L2511.9,2020.9 L2516.2,2020.2 L2520.4,2018.4 L2524.7,2015.8 L2528.9,2016.1 L2533.2,2016 L2537.5,2014.7 L2541.7,2013.8 L2546,2011.9 L2550.2,2011.7 L2554.5,2010.9 L2558.8,2010.9 L2563,2008.4 L2567.3,2007 L2571.5,2006.8 L2575.8,2006.3 L2580.1,2004.9 L2584.3,2003.9 L2588.6,2003 L2592.8,2001.6 L2597.1,1999.4 L2601.4,1998.2 L2605.6,1997.9 L2609.9,1997 L2614.1,1995.9 L2618.4,1994.6 L2622.7,1992.4 L2626.9,1991.2 L2631.2,1990.9 L2635.4,1990.9 L2639.7,1988.1 L2644,1987.4 L2648.2,1986 L2652.5,1983.8 L2656.7,1983.7 L2661,1982.6 L2665.3,1982.4 L2669.5,1979.5 L2673.8,1977.7 L2678,1976.8 L2682.3,1976.4 L2686.6,1976.3 L2690.8,1973.8 L2695.1,1972.6 L2699.3,1970.9 L2703.6,1970.6 L2707.9,1969.4 L2712.1,1968.7 L2716.4,1968.1 L2720.6,1964.9 L2724.9,1963.3 L2729.2,1962.5 L2733.4,1961.6 L2737.7,1961.8 L2741.9,1959.5 L2746.2,1957.2 L2750.5,1955.1 L2754.7,1954.5 L2759,1953.9 L2763.2,1952.7 L2767.5,1952.5 L2771.8,1950.7 L2776,1947.5 L2780.3,1946.2 L2784.5,1946.1 L2788.8,1946.1 L2793.1,1944.2 L2797.3,1942.4 L2801.6,1939.5 L2805.8,1937.4 L2810.1,1937.5 L2834.1,1933.5" fill="none" stroke="#5560c0" stroke-width="1.8" stroke-linejoin="round"/>
<path d="M1915.5,2115.1 L1919.8,2111.9 L1924,2105.3 L1928.3,2097.7 L1932.5,2088.9 L1936.8,2082.4 L1941.1,2080.9 L1945.3,2080 L1949.6,2079.7 L1953.8,2077.3 L1958.1,2075.2 L1962.4,2072.3 L1966.6,2072.3 L1970.9,2072 L1975.1,2070.3 L1979.4,2068.7 L1983.7,2067.2 L1987.9,2066.4 L1992.2,2066.6 L1996.4,2067 L2000.7,2065.3 L2005,2063.2 L2009.2,2061.2 L2013.5,2058.2 L2017.7,2058.3 L2022,2057.6 L2026.3,2057.6 L2030.5,2056.8 L2034.8,2056.1 L2039,2055.4 L2043.3,2054.2 L2047.6,2052.6 L2051.8,2052.3 L2056.1,2050.4 L2060.3,2048.1 L2064.6,2045.7 L2068.9,2045.9 L2073.1,2045.3 L2077.4,2043 L2081.6,2043.3 L2085.9,2041.4 L2090.2,2039.3 L2094.4,2038.6 L2098.7,2037.3 L2102.9,2036.7 L2107.2,2033.1 L2111.5,2031.1 L2115.7,2028.9 L2120,2027.2 L2124.2,2026.5 L2128.5,2024.5 L2132.8,2022.5 L2137,2019.8 L2141.3,2017.3 L2145.5,2017.4 L2149.8,2015.9 L2154.1,2014.6 L2158.3,2009.5 L2162.6,2006.3 L2166.8,2005.2 L2171.1,2003.9 L2175.4,2002.9 L2179.6,2002.2 L2183.9,2000.5 L2188.1,1998.5 L2192.4,1998.9 L2196.7,1997.2 L2200.9,1995.9 L2205.2,1995.1 L2209.4,1992.9 L2213.7,1992.3 L2218,1990.1 L2222.2,1990.2 L2226.5,1988.9 L2230.7,1987.4 L2235,1983.3 L2239.3,1980.7 L2243.5,1979.1 L2247.8,1977.2 L2252,1975.6 L2256.3,1973.8 L2260.6,1972 L2264.8,1971.1 L2269.1,1969.1 L2273.3,1968.1 L2277.6,1966.5 L2281.9,1964.2 L2286.1,1960.6 L2290.4,1958 L2294.6,1954.6 L2298.9,1954.7 L2303.2,1954.6 L2307.4,1953.9 L2311.7,1952.4 L2315.9,1950.2 L2320.2,1949.5 L2324.5,1947.9 L2328.7,1944.8 L2333,1940.7 L2337.2,1936.1 L2341.5,1929.4 L2345.8,1923.7 L2350,1922 L2354.3,1921.9 L2358.5,1918.3 L2362.8,1915.1 L2367.1,1910.2 L2371.3,1907.1 L2375.6,1906.7 L2379.8,1905.9 L2384.1,1903.4 L2388.4,1901.8 L2392.6,1901 L2396.9,1897.8 L2401.1,1897.5 L2405.4,1895.3 L2409.7,1892.9 L2413.9,1889.9 L2418.2,1888 L2422.4,1884.5 L2426.7,1883.8 L2431,1882.3 L2435.2,1879.3 L2439.5,1878.1 L2443.7,1873.4 L2448,1870.4 L2452.3,1870.1 L2456.5,1867.9 L2460.8,1865 L2465,1861.6 L2469.3,1859.2 L2473.6,1855.1 L2477.8,1854.8 L2482.1,1852.8 L2486.3,1851.9 L2490.6,1848.6 L2494.9,1847.7 L2499.1,1843.5 L2503.4,1843.6 L2507.6,1842.5 L2511.9,1840.2 L2516.2,1835.6 L2520.4,1833.3 L2524.7,1829.2 L2528.9,1828.1 L2533.2,1826.4 L2537.5,1824.2 L2541.7,1819.8 L2546,1817.3 L2550.2,1814.3 L2554.5,1813.8 L2558.8,1814 L2563,1812.1 L2567.3,1809 L2571.5,1805.6 L2575.8,1804.3 L2580.1,1804.2 L2584.3,1803 L2588.6,1801.5 L2592.8,1799.7 L2597.1,1799.3 L2601.4,1796.2 L2605.6,1796.4 L2609.9,1794.7 L2614.1,1795.3 L2618.4,1792.3 L2622.7,1791.3 L2626.9,1788.3 L2631.2,1787.9 L2635.4,1789.5 L2639.7,1790.4 L2644,1792.7 L2648.2,1794.6 L2652.5,1795.6 L2656.7,1796.2 L2661,1794.7 L2665.3,1793.7 L2669.5,1793.6 L2673.8,1792 L2678,1790.7 L2682.3,1789.2 L2686.6,1788.1 L2690.8,1787 L2695.1,1785 L2699.3,1782.2 L2703.6,1780.8 L2707.9,1779.3 L2712.1,1779 L2716.4,1778.2 L2720.6,1776.9 L2724.9,1774.6 L2729.2,1775.1 L2733.4,1773.6 L2737.7,1774.5 L2741.9,1771.8 L2746.2,1773.2 L2750.5,1772.4 L2754.7,1771.2 L2759,1770.5 L2763.2,1769.7 L2767.5,1772.4 L2771.8,1771.4 L2776,1774.3 L2780.3,1774.3 L2784.5,1774.2 L2788.8,1772.4 L2793.1,1771 L2797.3,1769.9 L2801.6,1767.6 L2805.8,1766.3 L2810.1,1765.1 L2834.1,1761.1" fill="none" stroke="#d2456a" stroke-width="1.8" stroke-linejoin="round"/>
<path d="M1915.5,2161.2 L1919.8,2155.1 L1924,2138.3 L1928.3,2115.6 L1932.5,2093.7 L1936.8,2074.4 L1941.1,2065.3 L1945.3,2067.4 L1949.6,2056.9 L1953.8,2056 L1958.1,2055.4 L1962.4,2049.7 L1966.6,2047.2 L1970.9,2047.8 L1975.1,2035 L1979.4,2029.4 L1983.7,2019.2 L1987.9,2015.1 L1992.2,2012.2 L1996.4,2011.2 L2000.7,2002.6 L2005,1998.9 L2009.2,1994.1 L2013.5,1995.1 L2017.7,1990.2 L2022,1990 L2026.3,1979.6 L2030.5,1977.4 L2034.8,1964.8 L2039,1963 L2043.3,1959.8 L2047.6,1955.1 L2051.8,1949.8 L2056.1,1951.1 L2060.3,1940.2 L2064.6,1936 L2068.9,1936.5 L2073.1,1939.5 L2077.4,1936.6 L2081.6,1929.2 L2085.9,1931.9 L2090.2,1926.5 L2094.4,1925.4 L2098.7,1924.2 L2102.9,1914.1 L2107.2,1911.7 L2111.5,1901.5 L2115.7,1897.3 L2120,1891.1 L2124.2,1894.5 L2128.5,1890.6 L2132.8,1892.1 L2137,1891.6 L2141.3,1892.3 L2145.5,1895.5 L2149.8,1890.9 L2154.1,1890 L2158.3,1888.9 L2162.6,1880.5 L2166.8,1883.2 L2171.1,1880.7 L2175.4,1878 L2179.6,1874.4 L2183.9,1874 L2188.1,1866.9 L2192.4,1862.2 L2196.7,1862.3 L2200.9,1861.4 L2205.2,1861.4 L2209.4,1853.9 L2213.7,1859 L2218,1849.6 L2222.2,1852.7 L2226.5,1853.6 L2230.7,1851.6 L2235,1841.3 L2239.3,1843.9 L2243.5,1837.7 L2247.8,1837.7 L2252,1836.9 L2256.3,1828.8 L2260.6,1824.4 L2264.8,1820.9 L2269.1,1823.5 L2273.3,1818.5 L2277.6,1814.7 L2281.9,1815.8 L2286.1,1812.8 L2290.4,1808.6 L2294.6,1800.4 L2298.9,1800.3 L2303.2,1798.2 L2307.4,1797.3 L2311.7,1796.3 L2315.9,1788 L2320.2,1790.8 L2324.5,1787.9 L2328.7,1790.5 L2333,1791.6 L2337.2,1785.9 L2341.5,1794 L2345.8,1787.7 L2350,1791.3 L2354.3,1788.1 L2358.5,1785.6 L2362.8,1781.9 L2367.1,1771.2 L2371.3,1771.1 L2375.6,1765.9 L2379.8,1766.6 L2384.1,1765.6 L2388.4,1766.7 L2392.6,1766.7 L2396.9,1766.8 L2401.1,1770.5 L2405.4,1767.1 L2409.7,1769.8 L2413.9,1770.2 L2418.2,1761.5 L2422.4,1759 L2426.7,1762 L2431,1764.9 L2435.2,1759 L2439.5,1755 L2443.7,1750.7 L2448,1751.2 L2452.3,1749.5 L2456.5,1750.3 L2460.8,1742.7 L2465,1736.3 L2469.3,1727.3 L2473.6,1729.6 L2477.8,1724.4 L2482.1,1717.7 L2486.3,1714.1 L2490.6,1707.4 L2494.9,1692.2 L2499.1,1689.8 L2503.4,1685 L2507.6,1687.5 L2511.9,1682.3 L2516.2,1680 L2520.4,1671.1 L2524.7,1671 L2528.9,1670.5 L2533.2,1666 L2537.5,1667.4 L2541.7,1657.6 L2546,1653.4 L2550.2,1653.6 L2554.5,1647.9 L2558.8,1649.1 L2563,1646 L2567.3,1636.5 L2571.5,1631.5 L2575.8,1629.4 L2580.1,1625.9 L2584.3,1623.8 L2588.6,1617.5 L2592.8,1612.2 L2597.1,1603.9 L2601.4,1600.9 L2605.6,1600 L2609.9,1604 L2614.1,1604.2 L2618.4,1602 L2622.7,1601.5 L2626.9,1600.6 L2631.2,1602 L2635.4,1598.5 L2639.7,1599.3 L2644,1602.6 L2648.2,1602.5 L2652.5,1597.8 L2656.7,1598.7 L2661,1598.4 L2665.3,1592 L2669.5,1583.1 L2673.8,1574.6 L2678,1569.1 L2682.3,1564.5 L2686.6,1561.6 L2690.8,1560 L2695.1,1550.9 L2699.3,1546.9 L2703.6,1544.8 L2707.9,1540.9 L2712.1,1542.8 L2716.4,1540.6 L2720.6,1547.2 L2724.9,1546.1 L2729.2,1546.6 L2733.4,1546.3 L2737.7,1541.6 L2741.9,1543.8 L2746.2,1538.7 L2750.5,1539.4 L2754.7,1535.7 L2759,1535.2 L2763.2,1537.6 L2767.5,1536 L2771.8,1536.9 L2776,1533 L2780.3,1535.1 L2784.5,1533.9 L2788.8,1535.6 L2793.1,1536 L2797.3,1531.8 L2801.6,1535.3 L2805.8,1535.2 L2810.1,1532.1 L2834.1,1528.1" fill="none" stroke="#55565a" stroke-width="1.4" stroke-linejoin="round"/>
<path d="M1916,2215 L1918.3,2278 L1920.6,2189 L1922.9,2278 L1925.2,2194.9 L1927.5,2278 L1929.8,2197.4 L1932.1,2269.9 L1934.4,2172.3 L1936.7,2269.2 L1939,2182.5 L1941.3,2245.8 L1943.6,2177.6 L1945.9,2259.3 L1948.2,2154.3 L1950.5,2234.7 L1952.8,2142.3 L1955.1,2260.7 L1957.4,2152.4 L1959.7,2248.6 L1962,2168.7 L1964.3,2208.1 L1967.7,2181.1 L1971.1,2211.2 L1974.5,2191.8 L1977.9,2218.8 L1981.3,2200.2 L1984.7,2226.6 L1988.1,2202.4 L1991.5,2235.7 L1994.9,2206.5 L1998.3,2234.6 L2001.7,2208.8 L2005.1,2235.4 L2008.5,2211.3 L2011.9,2232.7 L2015.3,2209 L2018.7,2238.3 L2022.1,2209.2 L2025.5,2231.2 L2028.9,2209.9 L2032.3,2223.2 L2035.7,2206.8 L2039.1,2217.7 L2042.5,2200.7 L2045.9,2216 L2049.3,2199.3 L2052.7,2213.7 L2056.1,2198.1 L2059.5,2213.5 L2062.9,2201.6 L2066.3,2208.4 L2069.7,2197 L2073.1,2206.4 L2076.5,2195 L2079.9,2202.7" fill="none" stroke="#9471cf" stroke-width="1.5" stroke-linejoin="round"/>
<path d="M1936,2179.1 L1938.8,2184.9 L1941.6,2160.7 L1944.4,2177.9 L1947.2,2169.3 L1950,2180.4 L1952.8,2162.9 L1955.6,2185.8 L1958.4,2173 L1961.2,2183.7 L1964,2175.2 L1966.8,2184.2 L1969.6,2169.4 L1972.4,2185.1 L1975.2,2171.7 L1978,2187.3 L1980.8,2175.2 L1983.6,2189.5 L1986.4,2175.8 L1989.2,2188.8 L1992,2176 L1994.8,2186.7 L1997.6,2174.4 L2000.4,2184.8 L2003.2,2166.4 L2006,2188.4 L2008.8,2172.1 L2011.6,2188.4" fill="none" stroke="#7db784" stroke-width="1.4" stroke-linejoin="round"/>
<path d="M1945,2064.5 L1948.1,2053.8 L1951.2,2060.1 L1954.3,2047.2 L1957.4,2055.7 L1960.5,2037.3 L1963.6,2051.3 L1966.7,2035.4 L1969.8,2044.8 L1972.9,2033.4 L1976,2036.3 L1979.1,2014.2 L1982.2,2027.9 L1985.3,2015.1 L1988.4,2019.4 L1991.5,2006 L1994.6,2012.1 L1997.7,1994.2 L2000.8,2006.8 L2003.9,1994.1 L2007,2001.4 L2010.1,1989.2 L2013.2,1996.1 L2016.3,1986.5 L2019.4,1990.2 L2022.5,1979.4 L2025.6,1982.8 L2028.7,1966.2 L2031.8,1975.5 L2034.9,1962.9 L2038,1968.1 L2041.1,1951.2 L2044.2,1961 L2047.3,1947.7 L2050.4,1955.4 L2053.5,1941.1 L2056.6,1949.7 L2059.7,1929.4 L2062.8,1944 L2065.9,1929.4 L2069,1938.4 L2072.1,1924.2 L2075.2,1935.7 L2078.3,1918 L2081.4,1933 L2084.5,1923.5 L2087.6,1930.3 L2090.7,1921.1 L2093.8,1927.6 L2096.9,1907.1 L2100,1919.9" fill="none" stroke="#55565a" stroke-width="1.3" stroke-linejoin="round"/>
<path d="M2745,1535.3 L2750.5,1526.4 L2756,1537.4 L2761.5,1529.9 L2767,1509.8 L2772.5,1535.3 L2778,1526.8 L2783.5,1510 L2789,1529.9 L2794.5,1531.5 L2800,1522.9 L2805.5,1535 L2811,1524.5 L2816.5,1519.8 L2822,1527.4 L2827.5,1532.3 L2834,1540" fill="none" stroke="#55565a" stroke-width="1.3" stroke-linejoin="round"/>
<rect x="1906.5" y="2152.2" width="18" height="18" fill="#2f3034"/>
<rect x="1932.1" y="2056.3" width="18" height="18" fill="#2f3034"/>
<rect x="1957.6" y="2038.2" width="18" height="18" fill="#2f3034"/>
<rect x="1983.2" y="2003.2" width="18" height="18" fill="#2f3034"/>
<rect x="2008.7" y="1981.2" width="18" height="18" fill="#2f3034"/>
<rect x="2034.3" y="1950.8" width="18" height="18" fill="#2f3034"/>
<rect x="2059.9" y="1927.5" width="18" height="18" fill="#2f3034"/>
<rect x="2085.4" y="1916.4" width="18" height="18" fill="#2f3034"/>
<rect x="2111" y="1882.1" width="18" height="18" fill="#2f3034"/>
<rect x="2136.5" y="1886.5" width="18" height="18" fill="#2f3034"/>
<rect x="2162.1" y="1871.7" width="18" height="18" fill="#2f3034"/>
<rect x="2187.7" y="1853.3" width="18" height="18" fill="#2f3034"/>
<rect x="2213.2" y="1843.7" width="18" height="18" fill="#2f3034"/>
<rect x="2238.8" y="1828.7" width="18" height="18" fill="#2f3034"/>
<rect x="2264.3" y="1809.5" width="18" height="18" fill="#2f3034"/>
<rect x="2289.9" y="1791.3" width="18" height="18" fill="#2f3034"/>
<rect x="2315.5" y="1778.9" width="18" height="18" fill="#2f3034"/>
<rect x="2341" y="1782.3" width="18" height="18" fill="#2f3034"/>
<rect x="2366.6" y="1756.9" width="18" height="18" fill="#2f3034"/>
<rect x="2392.1" y="1761.5" width="18" height="18" fill="#2f3034"/>
<rect x="2417.7" y="1753" width="18" height="18" fill="#2f3034"/>
<rect x="2443.3" y="1740.5" width="18" height="18" fill="#2f3034"/>
<rect x="2468.8" y="1715.4" width="18" height="18" fill="#2f3034"/>
<rect x="2494.4" y="1676" width="18" height="18" fill="#2f3034"/>
<rect x="2519.9" y="1661.5" width="18" height="18" fill="#2f3034"/>
<rect x="2545.5" y="1638.9" width="18" height="18" fill="#2f3034"/>
<rect x="2571.1" y="1616.9" width="18" height="18" fill="#2f3034"/>
<rect x="2596.6" y="1591" width="18" height="18" fill="#2f3034"/>
<rect x="2622.2" y="1593" width="18" height="18" fill="#2f3034"/>
<rect x="2647.7" y="1589.7" width="18" height="18" fill="#2f3034"/>
<rect x="2673.3" y="1555.5" width="18" height="18" fill="#2f3034"/>
<rect x="2698.9" y="1531.9" width="18" height="18" fill="#2f3034"/>
<rect x="2724.4" y="1537.3" width="18" height="18" fill="#2f3034"/>
<rect x="2750" y="1526.2" width="18" height="18" fill="#2f3034"/>
<rect x="2775.5" y="1524.9" width="18" height="18" fill="#2f3034"/>
<rect x="2801.1" y="1523.1" width="18" height="18" fill="#2f3034"/>
<polygon points="1915.5,2249.3 1928.5,2262.3 1915.5,2275.3 1902.5,2262.3" fill="#7b4fbd"/>
<polygon points="1941.1,2198.8 1954.1,2211.8 1941.1,2224.8 1928.1,2211.8" fill="#7b4fbd"/>
<polygon points="1966.6,2189.7 1979.6,2202.7 1966.6,2215.7 1953.6,2202.7" fill="#7b4fbd"/>
<polygon points="1992.2,2212.3 2005.2,2225.3 1992.2,2238.3 1979.2,2225.3" fill="#7b4fbd"/>
<polygon points="2017.7,2217.4 2030.7,2230.4 2017.7,2243.4 2004.7,2230.4" fill="#7b4fbd"/>
<polygon points="2043.3,2202.7 2056.3,2215.7 2043.3,2228.7 2030.3,2215.7" fill="#7b4fbd"/>
<polygon points="2068.9,2196.7 2081.9,2209.7 2068.9,2222.7 2055.9,2209.7" fill="#7b4fbd"/>
<polygon points="2094.4,2186.3 2107.4,2199.3 2094.4,2212.3 2081.4,2199.3" fill="#7b4fbd"/>
<polygon points="2120,2189.2 2133,2202.2 2120,2215.2 2107,2202.2" fill="#7b4fbd"/>
<polygon points="2145.5,2196.7 2158.5,2209.7 2145.5,2222.7 2132.5,2209.7" fill="#7b4fbd"/>
<polygon points="2171.1,2192.3 2184.1,2205.3 2171.1,2218.3 2158.1,2205.3" fill="#7b4fbd"/>
<polygon points="2196.7,2192.3 2209.7,2205.3 2196.7,2218.3 2183.7,2205.3" fill="#7b4fbd"/>
<polygon points="2222.2,2181.9 2235.2,2194.9 2222.2,2207.9 2209.2,2194.9" fill="#7b4fbd"/>
<polygon points="2247.8,2177.5 2260.8,2190.5 2247.8,2203.5 2234.8,2190.5" fill="#7b4fbd"/>
<polygon points="2273.3,2173.4 2286.3,2186.4 2273.3,2199.4 2260.3,2186.4" fill="#7b4fbd"/>
<polygon points="2298.9,2183.7 2311.9,2196.7 2298.9,2209.7 2285.9,2196.7" fill="#7b4fbd"/>
<polygon points="2324.5,2177.5 2337.5,2190.5 2324.5,2203.5 2311.5,2190.5" fill="#7b4fbd"/>
<polygon points="2350,2181.9 2363,2194.9 2350,2207.9 2337,2194.9" fill="#7b4fbd"/>
<polygon points="2375.6,2169.7 2388.6,2182.7 2375.6,2195.7 2362.6,2182.7" fill="#7b4fbd"/>
<polygon points="2401.1,2166.4 2414.1,2179.4 2401.1,2192.4 2388.1,2179.4" fill="#7b4fbd"/>
<polygon points="2426.7,2162.5 2439.7,2175.5 2426.7,2188.5 2413.7,2175.5" fill="#7b4fbd"/>
<polygon points="2452.3,2152.1 2465.3,2165.1 2452.3,2178.1 2439.3,2165.1" fill="#7b4fbd"/>
<polygon points="2477.8,2144.9 2490.8,2157.9 2477.8,2170.9 2464.8,2157.9" fill="#7b4fbd"/>
<polygon points="2503.4,2137.9 2516.4,2150.9 2503.4,2163.9 2490.4,2150.9" fill="#7b4fbd"/>
<polygon points="2528.9,2131.4 2541.9,2144.4 2528.9,2157.4 2515.9,2144.4" fill="#7b4fbd"/>
<polygon points="2554.5,2120.5 2567.5,2133.5 2554.5,2146.5 2541.5,2133.5" fill="#7b4fbd"/>
<polygon points="2580.1,2109.4 2593.1,2122.4 2580.1,2135.4 2567.1,2122.4" fill="#7b4fbd"/>
<polygon points="2605.6,2103.4 2618.6,2116.4 2605.6,2129.4 2592.6,2116.4" fill="#7b4fbd"/>
<polygon points="2631.2,2094.6 2644.2,2107.6 2631.2,2120.6 2618.2,2107.6" fill="#7b4fbd"/>
<polygon points="2656.7,2087.8 2669.7,2100.8 2656.7,2113.8 2643.7,2100.8" fill="#7b4fbd"/>
<polygon points="2682.3,2084.7 2695.3,2097.7 2682.3,2110.7 2669.3,2097.7" fill="#7b4fbd"/>
<polygon points="2707.9,2074.4 2720.9,2087.4 2707.9,2100.4 2694.9,2087.4" fill="#7b4fbd"/>
<polygon points="2733.4,2075.7 2746.4,2088.7 2733.4,2101.7 2720.4,2088.7" fill="#7b4fbd"/>
<polygon points="2759,2072.3 2772,2085.3 2759,2098.3 2746,2085.3" fill="#7b4fbd"/>
<polygon points="2784.5,2061.4 2797.5,2074.4 2784.5,2087.4 2771.5,2074.4" fill="#7b4fbd"/>
<polygon points="2810.1,2059.3 2823.1,2072.3 2810.1,2085.3 2797.1,2072.3" fill="#7b4fbd"/>
<polygon points="1915.5,2244.2 1928,2223.2 1903,2223.2" fill="#45a352"/>
<polygon points="1941.1,2184.6 1953.6,2163.6 1928.6,2163.6" fill="#45a352"/>
<polygon points="1966.6,2193.7 1979.1,2172.7 1954.1,2172.7" fill="#45a352"/>
<polygon points="1992.2,2193.7 2004.7,2172.7 1979.7,2172.7" fill="#45a352"/>
<polygon points="2017.7,2190.6 2030.2,2169.6 2005.2,2169.6" fill="#45a352"/>
<polygon points="2043.3,2201.4 2055.8,2180.4 2030.8,2180.4" fill="#45a352"/>
<polygon points="2068.9,2191.1 2081.4,2170.1 2056.4,2170.1" fill="#45a352"/>
<polygon points="2094.4,2182.8 2106.9,2161.8 2081.9,2161.8" fill="#45a352"/>
<polygon points="2120,2172.9 2132.5,2151.9 2107.5,2151.9" fill="#45a352"/>
<polygon points="2145.5,2178.1 2158,2157.1 2133,2157.1" fill="#45a352"/>
<polygon points="2171.1,2174.2 2183.6,2153.2 2158.6,2153.2" fill="#45a352"/>
<polygon points="2196.7,2172.4 2209.2,2151.4 2184.2,2151.4" fill="#45a352"/>
<polygon points="2222.2,2167.8 2234.7,2146.8 2209.7,2146.8" fill="#45a352"/>
<polygon points="2247.8,2162.1 2260.3,2141.1 2235.3,2141.1" fill="#45a352"/>
<polygon points="2273.3,2156.9 2285.8,2135.9 2260.8,2135.9" fill="#45a352"/>
<polygon points="2298.9,2154.3 2311.4,2133.3 2286.4,2133.3" fill="#45a352"/>
<polygon points="2324.5,2157.4 2337,2136.4 2312,2136.4" fill="#45a352"/>
<polygon points="2350,2150.9 2362.5,2129.9 2337.5,2129.9" fill="#45a352"/>
<polygon points="2375.6,2143.9 2388.1,2122.9 2363.1,2122.9" fill="#45a352"/>
<polygon points="2401.1,2138.7 2413.6,2117.7 2388.6,2117.7" fill="#45a352"/>
<polygon points="2426.7,2132.8 2439.2,2111.8 2414.2,2111.8" fill="#45a352"/>
<polygon points="2452.3,2125.8 2464.8,2104.8 2439.8,2104.8" fill="#45a352"/>
<polygon points="2477.8,2117.2 2490.3,2096.2 2465.3,2096.2" fill="#45a352"/>
<polygon points="2503.4,2110.7 2515.9,2089.7 2490.9,2089.7" fill="#45a352"/>
<polygon points="2528.9,2104.2 2541.4,2083.2 2516.4,2083.2" fill="#45a352"/>
<polygon points="2554.5,2099.1 2567,2078.1 2542,2078.1" fill="#45a352"/>
<polygon points="2580.1,2092.6 2592.6,2071.6 2567.6,2071.6" fill="#45a352"/>
<polygon points="2605.6,2085.3 2618.1,2064.3 2593.1,2064.3" fill="#45a352"/>
<polygon points="2631.2,2080.9 2643.7,2059.9 2618.7,2059.9" fill="#45a352"/>
<polygon points="2656.7,2064.1 2669.2,2043.1 2644.2,2043.1" fill="#45a352"/>
<polygon points="2682.3,2061.5 2694.8,2040.5 2669.8,2040.5" fill="#45a352"/>
<polygon points="2707.9,2046.4 2720.4,2025.4 2695.4,2025.4" fill="#45a352"/>
<polygon points="2733.4,2037.6 2745.9,2016.6 2720.9,2016.6" fill="#45a352"/>
<polygon points="2759,2029.1 2771.5,2008.1 2746.5,2008.1" fill="#45a352"/>
<polygon points="2784.5,2016.9 2797,1995.9 2772,1995.9" fill="#45a352"/>
<polygon points="2810.1,2011.7 2822.6,1990.7 2797.6,1990.7" fill="#45a352"/>
<polygon points="1915.5,2148.2 1928,2169.2 1903,2169.2" fill="#3448a8"/>
<polygon points="1941.1,2137.9 1953.6,2158.9 1928.6,2158.9" fill="#3448a8"/>
<polygon points="1966.6,2132.7 1979.1,2153.7 1954.1,2153.7" fill="#3448a8"/>
<polygon points="1992.2,2129.3 2004.7,2150.3 1979.7,2150.3" fill="#3448a8"/>
<polygon points="2017.7,2124.9 2030.2,2145.9 2005.2,2145.9" fill="#3448a8"/>
<polygon points="2043.3,2121 2055.8,2142 2030.8,2142" fill="#3448a8"/>
<polygon points="2068.9,2117.9 2081.4,2138.9 2056.4,2138.9" fill="#3448a8"/>
<polygon points="2094.4,2113.8 2106.9,2134.8 2081.9,2134.8" fill="#3448a8"/>
<polygon points="2120,2108.1 2132.5,2129.1 2107.5,2129.1" fill="#3448a8"/>
<polygon points="2145.5,2103.4 2158,2124.4 2133,2124.4" fill="#3448a8"/>
<polygon points="2171.1,2097.7 2183.6,2118.7 2158.6,2118.7" fill="#3448a8"/>
<polygon points="2196.7,2092 2209.2,2113 2184.2,2113" fill="#3448a8"/>
<polygon points="2222.2,2085.2 2234.7,2106.2 2209.7,2106.2" fill="#3448a8"/>
<polygon points="2247.8,2076.4 2260.3,2097.4 2235.3,2097.4" fill="#3448a8"/>
<polygon points="2273.3,2071 2285.8,2092 2260.8,2092" fill="#3448a8"/>
<polygon points="2298.9,2064 2311.4,2085 2286.4,2085" fill="#3448a8"/>
<polygon points="2324.5,2054.1 2337,2075.1 2312,2075.1" fill="#3448a8"/>
<polygon points="2350,2047.1 2362.5,2068.1 2337.5,2068.1" fill="#3448a8"/>
<polygon points="2375.6,2038.1 2388.1,2059.1 2363.1,2059.1" fill="#3448a8"/>
<polygon points="2401.1,2031.6 2413.6,2052.6 2388.6,2052.6" fill="#3448a8"/>
<polygon points="2426.7,2025.1 2439.2,2046.1 2414.2,2046.1" fill="#3448a8"/>
<polygon points="2452.3,2021.2 2464.8,2042.2 2439.8,2042.2" fill="#3448a8"/>
<polygon points="2477.8,2016 2490.3,2037 2465.3,2037" fill="#3448a8"/>
<polygon points="2503.4,2010.9 2515.9,2031.9 2490.9,2031.9" fill="#3448a8"/>
<polygon points="2528.9,2003.1 2541.4,2024.1 2516.4,2024.1" fill="#3448a8"/>
<polygon points="2554.5,1997.9 2567,2018.9 2542,2018.9" fill="#3448a8"/>
<polygon points="2580.1,1991.9 2592.6,2012.9 2567.6,2012.9" fill="#3448a8"/>
<polygon points="2605.6,1984.9 2618.1,2005.9 2593.1,2005.9" fill="#3448a8"/>
<polygon points="2631.2,1977.9 2643.7,1998.9 2618.7,1998.9" fill="#3448a8"/>
<polygon points="2656.7,1970.7 2669.2,1991.7 2644.2,1991.7" fill="#3448a8"/>
<polygon points="2682.3,1963.4 2694.8,1984.4 2669.8,1984.4" fill="#3448a8"/>
<polygon points="2707.9,1956.4 2720.4,1977.4 2695.4,1977.4" fill="#3448a8"/>
<polygon points="2733.4,1948.6 2745.9,1969.6 2720.9,1969.6" fill="#3448a8"/>
<polygon points="2759,1940.9 2771.5,1961.9 2746.5,1961.9" fill="#3448a8"/>
<polygon points="2784.5,1933.1 2797,1954.1 2772,1954.1" fill="#3448a8"/>
<polygon points="2810.1,1924.5 2822.6,1945.5 2797.6,1945.5" fill="#3448a8"/>
<circle cx="1915.5" cy="2115.1" r="10.5" fill="#c2202d"/>
<circle cx="1941.1" cy="2080.9" r="10.5" fill="#c2202d"/>
<circle cx="1966.6" cy="2072.3" r="10.5" fill="#c2202d"/>
<circle cx="1992.2" cy="2066.6" r="10.5" fill="#c2202d"/>
<circle cx="2017.7" cy="2058.3" r="10.5" fill="#c2202d"/>
<circle cx="2043.3" cy="2054.2" r="10.5" fill="#c2202d"/>
<circle cx="2068.9" cy="2045.9" r="10.5" fill="#c2202d"/>
<circle cx="2094.4" cy="2038.6" r="10.5" fill="#c2202d"/>
<circle cx="2120" cy="2027.2" r="10.5" fill="#c2202d"/>
<circle cx="2145.5" cy="2017.4" r="10.5" fill="#c2202d"/>
<circle cx="2171.1" cy="2003.9" r="10.5" fill="#c2202d"/>
<circle cx="2196.7" cy="1997.2" r="10.5" fill="#c2202d"/>
<circle cx="2222.2" cy="1990.2" r="10.5" fill="#c2202d"/>
<circle cx="2247.8" cy="1977.2" r="10.5" fill="#c2202d"/>
<circle cx="2273.3" cy="1968.1" r="10.5" fill="#c2202d"/>
<circle cx="2298.9" cy="1954.7" r="10.5" fill="#c2202d"/>
<circle cx="2324.5" cy="1947.9" r="10.5" fill="#c2202d"/>
<circle cx="2350" cy="1922" r="10.5" fill="#c2202d"/>
<circle cx="2375.6" cy="1906.7" r="10.5" fill="#c2202d"/>
<circle cx="2401.1" cy="1897.5" r="10.5" fill="#c2202d"/>
<circle cx="2426.7" cy="1883.8" r="10.5" fill="#c2202d"/>
<circle cx="2452.3" cy="1870.1" r="10.5" fill="#c2202d"/>
<circle cx="2477.8" cy="1854.8" r="10.5" fill="#c2202d"/>
<circle cx="2503.4" cy="1843.6" r="10.5" fill="#c2202d"/>
<circle cx="2528.9" cy="1828.1" r="10.5" fill="#c2202d"/>
<circle cx="2554.5" cy="1813.8" r="10.5" fill="#c2202d"/>
<circle cx="2580.1" cy="1804.2" r="10.5" fill="#c2202d"/>
<circle cx="2605.6" cy="1796.4" r="10.5" fill="#c2202d"/>
<circle cx="2631.2" cy="1787.9" r="10.5" fill="#c2202d"/>
<circle cx="2656.7" cy="1796.2" r="10.5" fill="#c2202d"/>
<circle cx="2682.3" cy="1789.2" r="10.5" fill="#c2202d"/>
<circle cx="2707.9" cy="1779.3" r="10.5" fill="#c2202d"/>
<circle cx="2733.4" cy="1773.6" r="10.5" fill="#c2202d"/>
<circle cx="2759" cy="1770.5" r="10.5" fill="#c2202d"/>
<circle cx="2784.5" cy="1774.2" r="10.5" fill="#c2202d"/>
<circle cx="2810.1" cy="1765.1" r="10.5" fill="#c2202d"/>
</svg>
</body></html>
